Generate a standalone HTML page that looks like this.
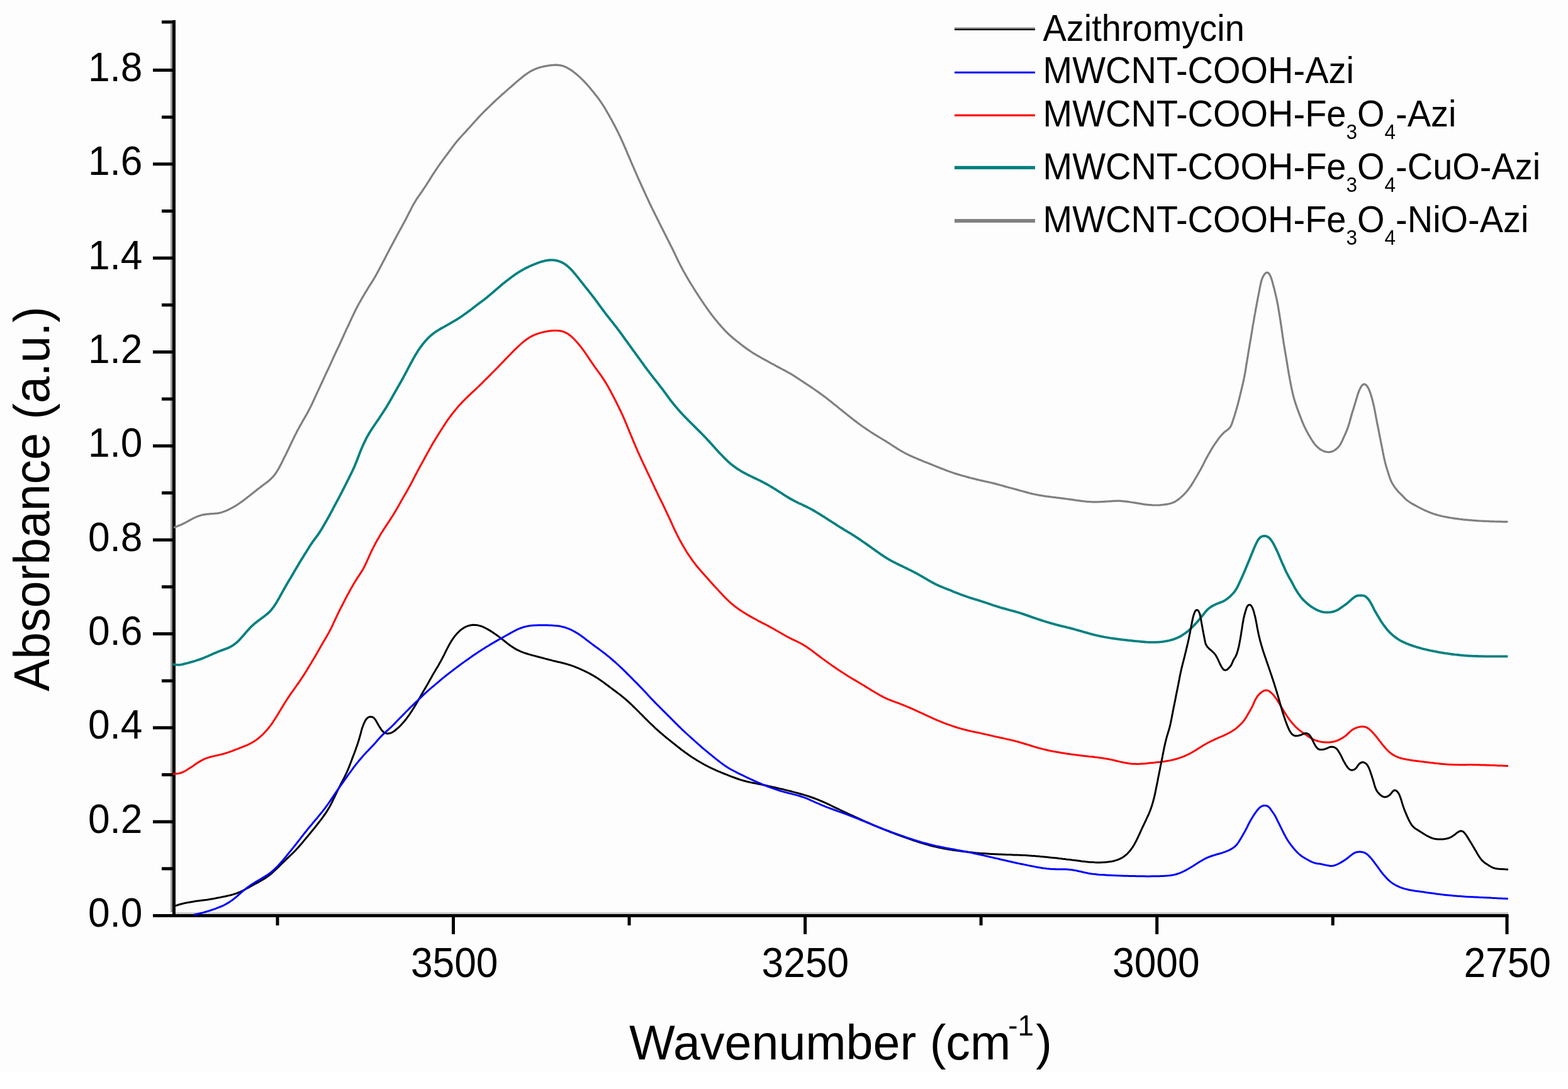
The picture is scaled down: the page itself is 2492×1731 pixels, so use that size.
<!DOCTYPE html>
<html><head><meta charset="utf-8"><title>FTIR Absorbance</title>
<style>
html,body{margin:0;padding:0;background:#fff;}
body{width:2492px;height:1731px;overflow:hidden;}
svg{display:block;}
</style></head>
<body>
<svg xmlns="http://www.w3.org/2000/svg" width="2492" height="1731" viewBox="0 0 2492 1731">
<rect x="0" y="0" width="2492" height="1705" fill="#fdfdfd"/>
<g font-family="'Liberation Sans', Arial, Helvetica, sans-serif" fill="#000">
<rect x="271" y="38" width="3" height="1412" fill="#9a9a9a"/>
<rect x="279" y="1450" width="2118" height="3" fill="#cfcfcf"/>
<rect x="274" y="32" width="5" height="1426" fill="#000"/>
<rect x="243" y="1453" width="2154.5" height="5" fill="#000"/>
<rect x="243" y="1453.0" width="33" height="5" fill="#000"/>
<rect x="257" y="1378.3" width="19" height="5" fill="#000"/>
<rect x="243" y="1303.7" width="33" height="5" fill="#000"/>
<rect x="257" y="1229.0" width="19" height="5" fill="#000"/>
<rect x="243" y="1154.3" width="33" height="5" fill="#000"/>
<rect x="257" y="1079.7" width="19" height="5" fill="#000"/>
<rect x="243" y="1005.0" width="33" height="5" fill="#000"/>
<rect x="257" y="930.3" width="19" height="5" fill="#000"/>
<rect x="243" y="855.7" width="33" height="5" fill="#000"/>
<rect x="257" y="781.0" width="19" height="5" fill="#000"/>
<rect x="243" y="706.3" width="33" height="5" fill="#000"/>
<rect x="257" y="631.7" width="19" height="5" fill="#000"/>
<rect x="243" y="557.0" width="33" height="5" fill="#000"/>
<rect x="257" y="482.3" width="19" height="5" fill="#000"/>
<rect x="243" y="407.7" width="33" height="5" fill="#000"/>
<rect x="257" y="333.0" width="19" height="5" fill="#000"/>
<rect x="243" y="258.3" width="33" height="5" fill="#000"/>
<rect x="257" y="183.7" width="19" height="5" fill="#000"/>
<rect x="243" y="109.0" width="33" height="5" fill="#000"/>
<rect x="257" y="32.5" width="19" height="5" fill="#000"/>
<rect x="438.5" y="1455" width="5" height="16" fill="#000"/>
<rect x="997.5" y="1455" width="5" height="16" fill="#000"/>
<rect x="1556.6" y="1455" width="5" height="16" fill="#000"/>
<rect x="2115.7" y="1455" width="5" height="16" fill="#000"/>
<rect x="718.0" y="1455" width="5" height="30" fill="#000"/>
<rect x="1277.1" y="1455" width="5" height="30" fill="#000"/>
<rect x="1836.2" y="1455" width="5" height="30" fill="#000"/>
<rect x="2392.5" y="1455" width="5" height="30" fill="#000"/>
<path d="M276.0 838.8L279.0 837.6L281.9 836.5L284.6 835.3L287.3 834.2L290.0 833.0L292.6 831.7L295.3 830.4L297.9 828.9L300.5 827.5L303.1 826.1L305.8 824.7L308.4 823.4L311.1 822.1L313.8 820.9L316.6 819.9L319.3 819.0L322.2 818.3L325.1 817.8L328.0 817.4L330.9 817.1L333.9 816.9L336.9 816.7L339.8 816.5L342.8 816.2L345.7 815.9L348.6 815.4L351.4 814.7L354.2 813.8L357.0 812.8L359.7 811.7L362.4 810.5L365.1 809.1L367.7 807.8L370.3 806.3L372.9 804.8L375.5 803.3L378.0 801.7L380.5 800.0L383.0 798.3L385.4 796.6L387.8 794.8L390.2 793.0L392.6 791.1L394.9 789.3L397.3 787.4L399.6 785.5L402.0 783.7L404.3 781.8L406.7 779.9L409.0 778.1L411.4 776.3L413.8 774.4L416.2 772.6L418.6 770.8L421.0 769.0L423.3 767.2L425.7 765.4L428.0 763.5L430.2 761.5L432.3 759.4L434.3 757.3L436.2 755.0L437.9 752.7L439.6 750.2L441.2 747.7L442.7 745.1L444.1 742.5L445.5 739.8L446.9 737.2L448.2 734.5L449.6 731.8L450.9 729.1L452.2 726.4L453.6 723.8L454.9 721.1L456.2 718.4L457.5 715.7L458.8 713.0L460.1 710.3L461.4 707.5L462.7 704.8L464.0 702.1L465.3 699.4L466.6 696.7L467.9 694.0L469.2 691.3L470.6 688.7L471.9 686.0L473.3 683.3L474.8 680.7L476.2 678.1L477.7 675.4L479.2 672.8L480.6 670.2L482.1 667.6L483.6 665.0L485.1 662.4L486.6 659.8L488.1 657.2L489.5 654.6L491.0 651.9L492.3 649.3L493.7 646.6L495.0 643.9L496.3 641.2L497.5 638.5L498.8 635.7L500.0 633.0L501.2 630.3L502.5 627.6L503.7 624.8L505.0 622.1L506.3 619.4L507.6 616.7L508.8 614.0L510.1 611.3L511.4 608.5L512.6 605.8L513.9 603.1L515.1 600.3L516.4 597.6L517.6 594.9L518.9 592.2L520.2 589.5L521.5 586.8L522.7 584.1L524.0 581.3L525.2 578.6L526.5 575.9L527.7 573.1L529.0 570.4L530.2 567.7L531.5 565.0L532.7 562.2L534.0 559.5L535.3 556.8L536.6 554.1L537.9 551.4L539.2 548.7L540.4 546.0L541.7 543.3L542.9 540.5L544.2 537.8L545.4 535.0L546.6 532.3L547.8 529.6L549.1 526.8L550.3 524.1L551.6 521.4L552.9 518.7L554.2 516.0L555.4 513.3L556.7 510.5L558.0 507.8L559.2 505.1L560.5 502.4L561.8 499.7L563.1 497.0L564.4 494.3L565.7 491.6L567.1 488.9L568.5 486.3L569.9 483.6L571.4 481.0L572.9 478.4L574.3 475.8L575.8 473.2L577.4 470.6L578.9 468.0L580.4 465.4L582.0 462.9L583.6 460.3L585.1 457.8L586.7 455.2L588.3 452.7L589.9 450.2L591.5 447.6L593.1 445.1L594.6 442.5L596.2 439.9L597.6 437.3L599.1 434.7L600.5 432.0L601.9 429.4L603.3 426.7L604.7 424.1L606.1 421.4L607.5 418.8L608.9 416.1L610.3 413.4L611.7 410.8L613.1 408.1L614.4 405.5L615.8 402.8L617.2 400.2L618.6 397.5L620.0 394.8L621.4 392.2L622.8 389.5L624.2 386.9L625.6 384.2L627.0 381.6L628.4 378.9L629.8 376.3L631.2 373.6L632.7 371.0L634.1 368.3L635.6 365.7L637.0 363.1L638.5 360.5L639.9 357.8L641.3 355.2L642.8 352.6L644.2 349.9L645.6 347.3L646.9 344.6L648.3 341.9L649.6 339.2L651.0 336.6L652.4 333.9L653.7 331.2L655.1 328.6L656.6 325.9L658.0 323.3L659.6 320.8L661.1 318.2L662.8 315.7L664.4 313.2L666.1 310.8L667.8 308.3L669.6 305.8L671.3 303.4L672.9 300.9L674.6 298.4L676.3 295.9L677.9 293.4L679.5 290.8L681.1 288.3L682.7 285.8L684.3 283.2L685.9 280.7L687.5 278.2L689.1 275.6L690.8 273.1L692.4 270.6L694.1 268.1L695.8 265.6L697.5 263.2L699.2 260.7L701.0 258.3L702.7 255.9L704.5 253.4L706.3 251.0L708.1 248.6L709.9 246.2L711.7 243.8L713.5 241.4L715.2 239.0L717.0 236.6L718.8 234.2L720.6 231.8L722.4 229.4L724.3 227.0L726.2 224.7L728.1 222.4L730.1 220.2L732.1 218.0L734.1 215.7L736.1 213.5L738.2 211.3L740.2 209.1L742.2 206.9L744.2 204.7L746.3 202.5L748.3 200.2L750.3 198.0L752.2 195.8L754.2 193.5L756.3 191.3L758.3 189.1L760.3 186.9L762.4 184.7L764.4 182.5L766.5 180.3L768.6 178.2L770.7 176.1L772.9 174.0L775.0 171.9L777.2 169.8L779.3 167.7L781.5 165.6L783.7 163.5L785.8 161.5L788.0 159.4L790.2 157.4L792.4 155.4L794.7 153.4L796.9 151.3L799.1 149.3L801.4 147.4L803.6 145.4L805.9 143.4L808.1 141.4L810.4 139.4L812.7 137.5L814.9 135.5L817.2 133.5L819.4 131.5L821.7 129.6L824.0 127.6L826.3 125.7L828.6 123.8L830.9 121.9L833.3 120.1L835.7 118.3L838.1 116.6L840.6 115.0L843.2 113.4L845.8 112.0L848.4 110.7L851.2 109.5L853.9 108.5L856.7 107.5L859.6 106.7L862.5 106.0L865.4 105.4L868.3 104.8L871.3 104.3L874.2 103.9L877.2 103.6L880.1 103.3L883.0 103.2L886.0 103.3L888.8 103.6L891.7 104.1L894.5 104.8L897.2 105.8L899.9 106.9L902.5 108.3L905.0 109.8L907.5 111.4L910.0 113.1L912.3 114.9L914.7 116.7L917.0 118.7L919.2 120.6L921.5 122.6L923.6 124.7L925.8 126.8L927.9 128.9L929.9 131.1L932.0 133.3L934.0 135.5L935.9 137.8L937.9 140.1L939.8 142.4L941.7 144.7L943.6 147.0L945.5 149.4L947.3 151.7L949.2 154.1L951.0 156.5L952.7 158.9L954.4 161.4L956.1 163.8L957.8 166.3L959.4 168.9L961.0 171.4L962.5 174.0L964.0 176.6L965.5 179.2L967.0 181.8L968.5 184.4L969.9 187.0L971.4 189.6L972.8 192.3L974.3 194.9L975.7 197.6L977.1 200.2L978.5 202.9L979.8 205.5L981.2 208.2L982.5 210.9L983.8 213.6L985.1 216.3L986.4 219.0L987.7 221.8L988.9 224.5L990.1 227.2L991.3 230.0L992.5 232.7L993.7 235.5L994.9 238.2L996.1 241.0L997.2 243.8L998.4 246.5L999.6 249.3L1000.8 252.0L1002.0 254.8L1003.1 257.6L1004.3 260.3L1005.5 263.1L1006.7 265.8L1007.9 268.6L1009.1 271.3L1010.3 274.1L1011.5 276.8L1012.7 279.6L1013.9 282.3L1015.1 285.1L1016.4 287.8L1017.6 290.5L1018.8 293.3L1020.0 296.0L1021.3 298.7L1022.5 301.5L1023.8 304.2L1025.0 306.9L1026.3 309.7L1027.5 312.4L1028.8 315.1L1030.1 317.8L1031.3 320.5L1032.6 323.3L1033.9 326.0L1035.2 328.7L1036.5 331.4L1037.8 334.1L1039.2 336.8L1040.5 339.5L1041.8 342.1L1043.2 344.8L1044.5 347.5L1045.9 350.2L1047.2 352.9L1048.5 355.6L1049.9 358.2L1051.2 360.9L1052.6 363.6L1053.9 366.3L1055.3 369.0L1056.6 371.7L1058.0 374.3L1059.3 377.0L1060.7 379.7L1062.0 382.4L1063.4 385.0L1064.7 387.7L1066.1 390.4L1067.4 393.1L1068.8 395.8L1070.1 398.5L1071.4 401.2L1072.7 403.9L1074.0 406.6L1075.3 409.3L1076.5 412.0L1077.8 414.7L1079.2 417.4L1080.5 420.1L1081.9 422.7L1083.3 425.4L1084.7 428.0L1086.1 430.7L1087.6 433.3L1089.1 435.9L1090.6 438.5L1092.1 441.1L1093.6 443.7L1095.1 446.3L1096.7 448.8L1098.2 451.4L1099.8 454.0L1101.4 456.5L1103.0 459.1L1104.6 461.6L1106.2 464.1L1107.8 466.6L1109.4 469.2L1111.1 471.7L1112.7 474.2L1114.4 476.7L1116.1 479.2L1117.8 481.6L1119.4 484.1L1121.2 486.6L1122.9 489.1L1124.6 491.5L1126.3 493.9L1128.1 496.4L1129.9 498.8L1131.7 501.2L1133.5 503.6L1135.4 505.9L1137.3 508.2L1139.2 510.6L1141.1 512.9L1143.0 515.2L1145.0 517.4L1147.0 519.7L1149.0 521.9L1151.0 524.1L1153.1 526.3L1155.2 528.4L1157.3 530.5L1159.5 532.5L1161.7 534.5L1164.0 536.5L1166.3 538.4L1168.6 540.3L1171.0 542.2L1173.3 544.0L1175.7 545.9L1178.0 547.7L1180.4 549.6L1182.8 551.4L1185.2 553.1L1187.7 554.9L1190.1 556.6L1192.6 558.3L1195.1 560.0L1197.6 561.6L1200.2 563.2L1202.7 564.7L1205.3 566.2L1207.9 567.7L1210.5 569.1L1213.2 570.6L1215.8 572.0L1218.5 573.4L1221.1 574.9L1223.7 576.3L1226.3 577.8L1228.9 579.2L1231.6 580.7L1234.2 582.1L1236.8 583.5L1239.5 584.9L1242.1 586.3L1244.7 587.7L1247.3 589.0L1249.9 590.4L1252.4 591.8L1254.9 593.2L1257.4 594.7L1259.8 596.1L1262.2 597.7L1264.6 599.2L1267.0 600.8L1269.5 602.4L1271.9 604.0L1274.4 605.6L1276.9 607.3L1279.4 608.9L1281.9 610.6L1284.4 612.2L1286.9 613.9L1289.4 615.6L1291.9 617.3L1294.4 619.0L1296.8 620.7L1299.3 622.4L1301.7 624.1L1304.2 625.9L1306.6 627.7L1309.0 629.4L1311.4 631.2L1313.8 633.1L1316.1 634.9L1318.5 636.8L1320.8 638.6L1323.2 640.5L1325.5 642.4L1327.9 644.3L1330.2 646.1L1332.5 648.0L1334.9 649.9L1337.2 651.8L1339.5 653.7L1341.9 655.6L1344.2 657.5L1346.6 659.3L1348.9 661.2L1351.3 663.1L1353.6 664.9L1356.0 666.8L1358.4 668.6L1360.8 670.4L1363.2 672.2L1365.6 674.0L1368.0 675.7L1370.4 677.5L1372.9 679.2L1375.3 680.9L1377.8 682.6L1380.3 684.3L1382.8 686.0L1385.3 687.6L1387.8 689.2L1390.4 690.8L1392.9 692.4L1395.5 693.9L1398.1 695.5L1400.6 697.0L1403.2 698.6L1405.8 700.1L1408.3 701.7L1410.9 703.3L1413.4 704.9L1415.9 706.5L1418.4 708.2L1421.0 709.8L1423.5 711.4L1426.0 713.1L1428.5 714.6L1431.1 716.2L1433.7 717.7L1436.3 719.2L1439.0 720.6L1441.6 721.9L1444.3 723.2L1447.0 724.5L1449.8 725.7L1452.5 727.0L1455.3 728.1L1458.0 729.3L1460.8 730.5L1463.6 731.6L1466.3 732.7L1469.1 733.9L1471.9 735.0L1474.7 736.1L1477.5 737.2L1480.3 738.3L1483.1 739.4L1485.8 740.6L1488.6 741.7L1491.4 742.8L1494.2 743.9L1497.0 745.0L1499.8 746.1L1502.6 747.2L1505.4 748.3L1508.2 749.3L1511.0 750.3L1513.8 751.3L1516.7 752.2L1519.6 753.1L1522.4 754.0L1525.3 754.9L1528.2 755.7L1531.1 756.5L1533.9 757.3L1536.8 758.1L1539.7 758.9L1542.6 759.7L1545.6 760.4L1548.5 761.1L1551.4 761.9L1554.3 762.6L1557.2 763.3L1560.1 763.9L1563.1 764.6L1566.0 765.2L1568.9 765.9L1571.8 766.5L1574.8 767.2L1577.7 767.9L1580.6 768.6L1583.5 769.4L1586.4 770.2L1589.3 771.0L1592.2 771.8L1595.1 772.6L1597.9 773.4L1600.8 774.2L1603.7 775.0L1606.6 775.7L1609.5 776.5L1612.4 777.3L1615.3 778.1L1618.2 778.9L1621.1 779.7L1624.0 780.5L1626.9 781.3L1629.8 782.1L1632.7 782.9L1635.6 783.7L1638.5 784.4L1641.4 785.1L1644.3 785.7L1647.3 786.3L1650.2 786.9L1653.1 787.4L1656.1 787.9L1659.1 788.3L1662.0 788.8L1665.0 789.2L1668.0 789.6L1671.0 790.0L1673.9 790.4L1676.9 790.7L1679.9 791.1L1682.9 791.4L1685.8 791.8L1688.8 792.2L1691.8 792.6L1694.8 793.0L1697.7 793.4L1700.7 793.8L1703.7 794.2L1706.7 794.7L1709.6 795.1L1712.6 795.5L1715.6 795.9L1718.5 796.3L1721.5 796.7L1724.5 797.0L1727.5 797.3L1730.5 797.5L1733.5 797.7L1736.4 797.8L1739.4 797.8L1742.4 797.9L1745.4 797.8L1748.4 797.7L1751.4 797.6L1754.4 797.4L1757.4 797.2L1760.4 797.0L1763.4 796.8L1766.4 796.6L1769.3 796.4L1772.3 796.3L1775.3 796.2L1778.3 796.2L1781.3 796.4L1784.2 796.6L1787.2 796.8L1790.2 797.2L1793.2 797.6L1796.1 798.0L1799.1 798.5L1802.0 798.9L1805.0 799.4L1808.0 799.9L1810.9 800.4L1813.9 800.9L1816.8 801.3L1819.8 801.8L1822.8 802.1L1825.7 802.5L1828.7 802.7L1831.7 802.9L1834.6 803.0L1837.6 803.0L1840.6 803.0L1843.5 802.8L1846.5 802.5L1849.4 802.2L1852.3 801.8L1855.3 801.4L1858.2 800.8L1861.1 800.0L1863.9 799.1L1866.6 797.8L1869.2 796.3L1871.7 794.6L1874.1 792.9L1876.4 790.9L1878.6 788.9L1880.8 786.8L1882.9 784.7L1884.9 782.5L1886.8 780.2L1888.7 777.8L1890.5 775.4L1892.2 773.0L1893.9 770.5L1895.4 767.9L1897.0 765.3L1898.5 762.7L1900.0 760.2L1901.6 757.6L1903.1 755.0L1904.6 752.4L1906.1 749.8L1907.6 747.2L1909.0 744.6L1910.4 741.9L1911.8 739.2L1913.1 736.6L1914.5 733.9L1915.8 731.2L1917.2 728.5L1918.7 725.9L1920.1 723.3L1921.6 720.7L1923.1 718.1L1924.6 715.5L1926.1 712.9L1927.7 710.3L1929.3 707.8L1931.0 705.3L1932.7 702.9L1934.5 700.4L1936.2 698.0L1938.1 695.6L1939.9 693.3L1941.9 691.0L1943.9 688.8L1946.1 686.8L1948.5 685.0L1950.9 683.2L1953.2 681.3L1955.1 679.0L1956.6 676.5L1957.7 673.7L1958.7 670.9L1959.6 668.0L1960.5 665.2L1961.5 662.3L1962.4 659.4L1963.3 656.6L1964.1 653.7L1965.0 650.8L1965.8 647.9L1966.6 645.1L1967.4 642.2L1968.1 639.2L1968.9 636.3L1969.6 633.4L1970.3 630.5L1971.0 627.6L1971.7 624.7L1972.4 621.8L1973.1 618.8L1973.8 615.9L1974.5 613.0L1975.2 610.1L1975.9 607.2L1976.5 604.2L1977.1 601.3L1977.7 598.3L1978.3 595.4L1978.8 592.4L1979.3 589.5L1979.8 586.5L1980.3 583.6L1980.7 580.6L1981.2 577.6L1981.7 574.7L1982.2 571.7L1982.7 568.7L1983.2 565.8L1983.6 562.8L1984.1 559.9L1984.6 556.9L1985.1 554.0L1985.6 551.0L1986.1 548.0L1986.6 545.1L1987.1 542.1L1987.6 539.2L1988.1 536.2L1988.6 533.2L1989.1 530.3L1989.6 527.3L1990.1 524.3L1990.5 521.4L1991.0 518.4L1991.5 515.5L1992.1 512.5L1992.6 509.6L1993.1 506.6L1993.6 503.6L1994.1 500.7L1994.7 497.7L1995.2 494.8L1995.7 491.8L1996.3 488.9L1996.8 485.9L1997.4 483.0L1997.9 480.0L1998.5 477.1L1999.0 474.1L1999.6 471.2L2000.2 468.2L2000.8 465.3L2001.4 462.4L2001.9 459.4L2002.5 456.5L2003.1 453.5L2003.7 450.6L2004.4 447.7L2005.2 444.8L2006.3 442.0L2007.5 439.3L2009.1 436.7L2010.9 434.5L2013.2 433.1L2015.5 433.6L2017.3 435.6L2018.7 438.2L2019.9 440.9L2020.9 443.8L2021.8 446.6L2022.6 449.5L2023.3 452.4L2024.1 455.3L2024.9 458.2L2025.6 461.1L2026.3 464.0L2027.0 467.0L2027.7 469.9L2028.4 472.8L2029.0 475.7L2029.6 478.7L2030.2 481.6L2030.8 484.6L2031.3 487.5L2031.8 490.5L2032.3 493.4L2032.8 496.4L2033.3 499.4L2033.8 502.3L2034.2 505.3L2034.7 508.2L2035.2 511.2L2035.6 514.2L2036.0 517.1L2036.5 520.1L2036.9 523.1L2037.3 526.1L2037.8 529.0L2038.2 532.0L2038.6 535.0L2039.1 537.9L2039.5 540.9L2040.0 543.9L2040.4 546.8L2040.9 549.8L2041.4 552.8L2041.9 555.7L2042.4 558.7L2042.9 561.6L2043.4 564.6L2043.9 567.5L2044.4 570.5L2044.9 573.5L2045.4 576.4L2045.9 579.4L2046.4 582.4L2046.8 585.3L2047.3 588.3L2047.8 591.2L2048.3 594.2L2048.9 597.1L2049.4 600.1L2049.9 603.0L2050.5 606.0L2051.1 608.9L2051.6 611.9L2052.2 614.8L2052.8 617.8L2053.5 620.7L2054.1 623.6L2054.8 626.6L2055.5 629.5L2056.3 632.4L2057.1 635.3L2058.0 638.1L2058.9 641.0L2059.8 643.8L2060.8 646.7L2061.8 649.5L2062.8 652.3L2063.9 655.1L2064.9 657.9L2066.0 660.7L2067.1 663.5L2068.2 666.3L2069.3 669.1L2070.4 671.9L2071.6 674.7L2072.8 677.4L2074.1 680.1L2075.4 682.8L2076.8 685.5L2078.2 688.1L2079.7 690.7L2081.2 693.3L2082.7 695.9L2084.3 698.5L2085.9 701.0L2087.6 703.5L2089.4 705.9L2091.3 708.2L2093.4 710.3L2095.7 712.3L2098.1 714.1L2100.6 715.6L2103.3 716.9L2106.1 717.9L2109.0 718.5L2112.0 718.7L2114.9 718.3L2117.8 717.4L2120.4 716.1L2122.9 714.4L2125.2 712.5L2127.3 710.4L2129.1 708.0L2130.7 705.4L2132.1 702.8L2133.4 700.1L2134.6 697.4L2135.8 694.6L2137.1 691.9L2138.3 689.1L2139.5 686.4L2140.6 683.6L2141.7 680.8L2142.7 678.0L2143.7 675.1L2144.5 672.3L2145.3 669.4L2146.1 666.5L2146.9 663.6L2147.7 660.7L2148.5 657.8L2149.4 654.9L2150.3 652.1L2151.2 649.2L2152.0 646.3L2152.9 643.5L2153.8 640.6L2154.7 637.7L2155.5 634.8L2156.4 632.0L2157.2 629.1L2158.1 626.2L2159.1 623.4L2160.2 620.6L2161.5 617.9L2162.9 615.2L2164.5 612.8L2166.5 611.0L2168.9 610.7L2171.3 612.1L2173.1 614.4L2174.6 616.9L2175.9 619.6L2177.0 622.4L2178.0 625.3L2178.9 628.1L2179.8 631.0L2180.6 633.9L2181.4 636.8L2182.1 639.7L2182.8 642.6L2183.5 645.5L2184.1 648.5L2184.7 651.4L2185.3 654.3L2185.8 657.3L2186.4 660.2L2186.9 663.2L2187.5 666.1L2188.0 669.1L2188.6 672.0L2189.2 675.0L2189.8 677.9L2190.4 680.9L2191.0 683.8L2191.5 686.8L2192.1 689.7L2192.7 692.6L2193.3 695.6L2193.9 698.5L2194.4 701.5L2195.0 704.4L2195.6 707.4L2196.2 710.3L2196.8 713.3L2197.4 716.2L2197.9 719.1L2198.5 722.1L2199.1 725.0L2199.7 728.0L2200.4 730.9L2201.1 733.8L2201.8 736.7L2202.6 739.6L2203.4 742.5L2204.3 745.4L2205.2 748.2L2206.1 751.1L2207.0 754.0L2207.9 756.8L2208.9 759.7L2209.9 762.5L2211.1 765.2L2212.5 767.9L2214.0 770.5L2215.6 773.0L2217.3 775.4L2219.2 777.8L2221.1 780.1L2223.1 782.3L2225.2 784.4L2227.4 786.5L2229.5 788.6L2231.6 790.8L2233.6 793.0L2235.8 795.0L2238.2 796.8L2240.7 798.5L2243.3 800.1L2245.9 801.5L2248.5 803.0L2251.1 804.4L2253.8 805.8L2256.4 807.2L2259.1 808.6L2261.8 809.9L2264.5 811.2L2267.3 812.4L2270.0 813.6L2272.8 814.7L2275.6 815.7L2278.4 816.7L2281.3 817.6L2284.1 818.5L2287.0 819.3L2289.9 820.0L2292.8 820.7L2295.8 821.3L2298.7 821.9L2301.6 822.4L2304.6 823.0L2307.6 823.4L2310.5 823.9L2313.5 824.3L2316.5 824.7L2319.4 825.1L2322.4 825.4L2325.4 825.8L2328.4 826.1L2331.4 826.4L2334.4 826.7L2337.4 826.9L2340.3 827.2L2343.3 827.4L2346.3 827.6L2349.3 827.8L2352.3 828.0L2355.3 828.1L2358.3 828.3L2361.3 828.4L2364.3 828.5L2367.3 828.7L2370.3 828.8L2373.3 828.9L2376.2 829.0L2379.2 829.1L2382.1 829.2L2385.0 829.2L2388.0 829.3L2391.0 829.3L2394.1 829.3L2396.3 829.3" fill="none" stroke="#808080" stroke-width="3.2" stroke-linejoin="round"/>
<path d="M274.7 1055.6L277.9 1056.3L280.9 1056.7L283.8 1056.9L286.7 1056.6L289.6 1056.1L292.4 1055.4L295.3 1054.7L298.2 1054.0L301.0 1053.2L303.9 1052.4L306.8 1051.6L309.6 1050.7L312.5 1049.8L315.3 1048.9L318.2 1047.9L321.0 1046.9L323.8 1045.8L326.5 1044.6L329.3 1043.5L332.0 1042.3L334.8 1041.1L337.5 1039.8L340.2 1038.6L343.0 1037.4L345.7 1036.3L348.5 1035.2L351.3 1034.1L354.1 1033.1L356.9 1032.1L359.6 1031.0L362.4 1029.9L365.0 1028.7L367.6 1027.3L370.1 1025.8L372.6 1024.1L374.9 1022.3L377.1 1020.4L379.3 1018.4L381.3 1016.2L383.3 1014.0L385.3 1011.8L387.3 1009.5L389.2 1007.3L391.1 1005.0L393.1 1002.7L395.1 1000.5L397.1 998.3L399.2 996.2L401.4 994.2L403.6 992.2L405.9 990.2L408.2 988.4L410.6 986.5L413.0 984.7L415.4 983.0L417.8 981.2L420.2 979.4L422.5 977.6L424.8 975.7L427.0 973.8L429.1 971.7L431.1 969.5L432.9 967.2L434.7 964.9L436.4 962.4L438.0 959.9L439.6 957.4L441.1 954.8L442.6 952.2L444.1 949.6L445.5 947.0L447.0 944.3L448.4 941.7L449.9 939.1L451.3 936.5L452.8 933.9L454.3 931.3L455.8 928.7L457.3 926.1L458.9 923.5L460.4 920.9L462.0 918.4L463.5 915.8L465.0 913.2L466.5 910.6L468.0 908.0L469.5 905.4L471.1 902.8L472.6 900.2L474.1 897.7L475.6 895.1L477.2 892.5L478.7 890.0L480.3 887.4L481.9 884.9L483.5 882.3L485.1 879.8L486.7 877.2L488.3 874.7L489.9 872.2L491.5 869.6L493.1 867.1L494.7 864.6L496.4 862.1L498.1 859.7L499.9 857.3L501.7 854.9L503.4 852.5L505.2 850.1L506.9 847.6L508.6 845.1L510.2 842.6L511.7 840.1L513.2 837.5L514.7 834.9L516.2 832.3L517.7 829.7L519.2 827.1L520.6 824.5L522.1 821.9L523.6 819.3L525.0 816.7L526.4 814.0L527.9 811.4L529.2 808.7L530.6 806.1L532.0 803.4L533.4 800.8L534.8 798.1L536.3 795.5L537.7 792.8L539.1 790.2L540.5 787.5L541.9 784.9L543.3 782.2L544.6 779.5L546.0 776.9L547.3 774.2L548.7 771.5L550.0 768.8L551.4 766.1L552.7 763.5L554.1 760.8L555.4 758.1L556.7 755.4L558.1 752.7L559.4 750.0L560.7 747.3L561.9 744.6L563.2 741.9L564.3 739.1L565.5 736.3L566.6 733.6L567.7 730.8L568.7 728.0L569.8 725.2L570.9 722.4L571.9 719.6L573.1 716.8L574.2 714.0L575.4 711.2L576.6 708.5L577.8 705.8L579.1 703.1L580.4 700.4L581.7 697.7L583.1 695.0L584.6 692.4L586.1 689.8L587.6 687.2L589.2 684.7L590.8 682.2L592.4 679.7L594.1 677.2L595.8 674.7L597.5 672.2L599.2 669.7L600.9 667.3L602.6 664.8L604.2 662.3L605.9 659.8L607.6 657.3L609.2 654.8L610.8 652.3L612.4 649.7L614.0 647.2L615.5 644.6L617.1 642.1L618.6 639.5L620.1 636.9L621.6 634.3L623.1 631.7L624.5 629.0L626.0 626.4L627.5 623.8L628.9 621.2L630.4 618.6L631.9 616.0L633.4 613.4L634.9 610.8L636.4 608.2L637.9 605.6L639.3 603.0L640.8 600.3L642.2 597.7L643.6 595.1L645.0 592.4L646.4 589.8L647.8 587.1L649.2 584.4L650.6 581.8L652.0 579.1L653.4 576.5L654.9 573.9L656.3 571.2L657.8 568.6L659.3 566.0L660.8 563.4L662.3 560.9L663.9 558.3L665.6 555.8L667.2 553.3L669.0 550.9L670.8 548.5L672.6 546.2L674.5 543.9L676.5 541.6L678.5 539.4L680.6 537.2L682.7 535.2L684.9 533.2L687.2 531.3L689.5 529.5L692.0 527.7L694.4 526.1L697.0 524.5L699.5 523.0L702.1 521.5L704.8 520.1L707.4 518.6L710.0 517.2L712.6 515.7L715.3 514.2L717.9 512.7L720.4 511.2L723.0 509.7L725.6 508.1L728.1 506.5L730.6 504.9L733.1 503.2L735.6 501.5L738.0 499.8L740.5 498.0L742.9 496.3L745.3 494.5L747.7 492.7L750.1 490.9L752.5 489.0L754.8 487.2L757.2 485.4L759.6 483.6L762.0 481.8L764.4 480.0L766.8 478.2L769.2 476.4L771.6 474.5L773.9 472.7L776.2 470.8L778.5 468.9L780.8 466.9L783.1 465.0L785.4 463.0L787.6 461.0L789.9 459.1L792.2 457.1L794.4 455.2L796.7 453.2L799.0 451.3L801.4 449.4L803.7 447.6L806.1 445.7L808.5 443.9L810.9 442.1L813.3 440.3L815.7 438.6L818.1 436.8L820.6 435.1L823.1 433.5L825.6 431.9L828.2 430.3L830.8 428.8L833.4 427.4L836.1 426.0L838.7 424.7L841.5 423.4L844.2 422.2L846.9 421.0L849.7 419.9L852.5 418.8L855.3 417.7L858.1 416.8L861.0 415.9L863.8 415.1L866.7 414.4L869.6 413.8L872.5 413.5L875.4 413.3L878.3 413.3L881.2 413.6L884.1 414.1L886.9 414.8L889.6 415.7L892.3 416.8L894.9 418.1L897.4 419.6L899.8 421.3L902.1 423.2L904.3 425.1L906.4 427.2L908.5 429.3L910.5 431.5L912.4 433.8L914.4 436.1L916.3 438.4L918.1 440.7L920.0 443.1L921.9 445.4L923.7 447.8L925.6 450.1L927.5 452.5L929.3 454.8L931.2 457.2L933.1 459.5L935.0 461.8L936.8 464.2L938.7 466.6L940.5 468.9L942.3 471.3L944.2 473.7L946.0 476.1L947.7 478.5L949.5 480.9L951.3 483.3L953.1 485.8L954.8 488.2L956.6 490.6L958.4 493.0L960.2 495.4L962.0 497.8L963.8 500.2L965.7 502.5L967.5 504.9L969.4 507.2L971.3 509.6L973.1 511.9L975.0 514.3L976.8 516.7L978.7 519.0L980.5 521.4L982.3 523.8L984.1 526.2L985.9 528.6L987.7 531.0L989.4 533.5L991.2 535.9L992.9 538.3L994.7 540.8L996.4 543.2L998.2 545.6L1000.0 548.1L1001.7 550.5L1003.5 552.9L1005.2 555.3L1007.0 557.8L1008.8 560.2L1010.5 562.6L1012.3 565.1L1014.0 567.5L1015.8 569.9L1017.6 572.3L1019.3 574.8L1021.1 577.2L1022.9 579.6L1024.6 582.1L1026.4 584.5L1028.2 586.9L1030.0 589.3L1031.8 591.7L1033.6 594.1L1035.4 596.4L1037.3 598.8L1039.1 601.2L1041.0 603.5L1042.9 605.9L1044.7 608.2L1046.6 610.6L1048.4 613.0L1050.2 615.3L1052.1 617.7L1053.9 620.1L1055.6 622.5L1057.4 624.9L1059.2 627.4L1061.0 629.8L1062.7 632.2L1064.5 634.6L1066.3 637.0L1068.2 639.4L1070.0 641.7L1071.9 644.0L1073.8 646.3L1075.8 648.6L1077.8 650.9L1079.7 653.1L1081.8 655.4L1083.8 657.6L1085.8 659.8L1087.9 661.9L1090.0 664.1L1092.1 666.2L1094.2 668.4L1096.3 670.5L1098.4 672.6L1100.5 674.7L1102.7 676.8L1104.8 678.9L1106.9 681.1L1109.1 683.2L1111.2 685.3L1113.3 687.4L1115.4 689.5L1117.5 691.7L1119.6 693.8L1121.7 696.0L1123.7 698.2L1125.8 700.4L1127.8 702.6L1129.8 704.8L1131.8 707.1L1133.8 709.3L1135.8 711.5L1137.8 713.7L1139.9 716.0L1141.9 718.2L1143.9 720.4L1146.0 722.5L1148.1 724.7L1150.2 726.8L1152.3 729.0L1154.5 731.0L1156.6 733.1L1158.8 735.1L1161.1 737.1L1163.4 739.0L1165.8 740.8L1168.2 742.6L1170.6 744.3L1173.1 745.9L1175.6 747.5L1178.2 749.1L1180.8 750.6L1183.4 752.0L1186.1 753.4L1188.7 754.8L1191.4 756.1L1194.1 757.4L1196.8 758.7L1199.5 760.0L1202.2 761.3L1205.0 762.6L1207.6 763.9L1210.3 765.2L1213.0 766.6L1215.6 768.0L1218.3 769.5L1220.9 770.9L1223.5 772.5L1226.0 774.0L1228.6 775.5L1231.2 777.1L1233.7 778.7L1236.2 780.3L1238.8 781.9L1241.3 783.5L1243.8 785.1L1246.3 786.8L1248.9 788.4L1251.4 790.0L1254.0 791.5L1256.5 793.0L1259.2 794.5L1261.8 795.9L1264.5 797.3L1267.1 798.6L1269.8 799.9L1272.6 801.1L1275.3 802.4L1278.0 803.7L1280.7 805.0L1283.4 806.3L1286.0 807.7L1288.7 809.1L1291.3 810.5L1293.9 812.0L1296.5 813.5L1299.1 815.1L1301.6 816.6L1304.2 818.2L1306.7 819.8L1309.3 821.4L1311.8 823.0L1314.3 824.6L1316.8 826.3L1319.4 827.9L1321.9 829.5L1324.4 831.1L1326.9 832.7L1329.5 834.4L1332.0 836.0L1334.5 837.6L1337.1 839.1L1339.6 840.7L1342.2 842.3L1344.8 843.8L1347.3 845.4L1349.9 846.9L1352.5 848.5L1355.0 850.1L1357.6 851.7L1360.1 853.3L1362.6 854.9L1365.1 856.6L1367.6 858.3L1370.0 860.0L1372.5 861.7L1375.0 863.4L1377.4 865.1L1379.9 866.9L1382.3 868.6L1384.7 870.3L1387.2 872.1L1389.6 873.8L1392.1 875.6L1394.5 877.3L1397.0 879.0L1399.4 880.8L1401.9 882.4L1404.4 884.1L1406.9 885.7L1409.5 887.3L1412.0 888.8L1414.6 890.3L1417.3 891.8L1419.9 893.2L1422.6 894.5L1425.2 895.9L1427.9 897.2L1430.6 898.5L1433.3 899.8L1436.0 901.1L1438.7 902.4L1441.4 903.8L1444.1 905.1L1446.8 906.4L1449.5 907.8L1452.2 909.1L1454.8 910.5L1457.5 911.9L1460.1 913.4L1462.7 914.8L1465.3 916.3L1467.9 917.9L1470.5 919.4L1473.0 920.9L1475.6 922.4L1478.2 923.9L1480.8 925.4L1483.5 926.8L1486.1 928.2L1488.8 929.5L1491.5 930.7L1494.3 931.9L1497.0 933.1L1499.8 934.2L1502.6 935.3L1505.4 936.4L1508.2 937.5L1511.0 938.6L1513.7 939.7L1516.5 940.9L1519.3 942.0L1522.1 943.1L1524.9 944.2L1527.7 945.2L1530.5 946.3L1533.3 947.3L1536.2 948.3L1539.0 949.3L1541.9 950.2L1544.7 951.1L1547.6 952.0L1550.4 952.9L1553.3 953.7L1556.2 954.6L1559.0 955.5L1561.9 956.5L1564.7 957.4L1567.6 958.3L1570.4 959.3L1573.3 960.3L1576.1 961.2L1578.9 962.2L1581.8 963.1L1584.7 964.0L1587.5 964.9L1590.4 965.8L1593.3 966.6L1596.2 967.4L1599.0 968.2L1601.9 969.0L1604.8 969.8L1607.7 970.5L1610.6 971.3L1613.5 972.1L1616.4 973.0L1619.3 973.8L1622.1 974.7L1625.0 975.6L1627.8 976.6L1630.7 977.6L1633.5 978.6L1636.3 979.6L1639.1 980.6L1642.0 981.6L1644.8 982.5L1647.6 983.5L1650.5 984.5L1653.3 985.4L1656.2 986.4L1659.0 987.3L1661.9 988.2L1664.8 989.0L1667.6 989.9L1670.5 990.7L1673.4 991.5L1676.3 992.3L1679.2 993.1L1682.1 993.8L1685.0 994.6L1687.9 995.3L1690.8 996.0L1693.8 996.7L1696.7 997.5L1699.6 998.2L1702.5 998.9L1705.4 999.7L1708.3 1000.5L1711.2 1001.3L1714.1 1002.1L1716.9 1002.9L1719.8 1003.7L1722.7 1004.6L1725.6 1005.4L1728.5 1006.2L1731.4 1007.0L1734.2 1007.8L1737.1 1008.6L1740.1 1009.3L1743.0 1010.0L1745.9 1010.7L1748.8 1011.3L1751.8 1011.9L1754.7 1012.5L1757.7 1013.0L1760.6 1013.5L1763.6 1014.0L1766.5 1014.5L1769.5 1014.9L1772.5 1015.3L1775.4 1015.7L1778.4 1016.1L1781.4 1016.5L1784.4 1016.9L1787.3 1017.2L1790.3 1017.5L1793.3 1017.9L1796.3 1018.2L1799.3 1018.5L1802.3 1018.8L1805.2 1019.1L1808.2 1019.4L1811.2 1019.7L1814.2 1020.0L1817.2 1020.2L1820.2 1020.5L1823.2 1020.7L1826.2 1020.8L1829.1 1020.9L1832.1 1020.9L1835.1 1020.9L1838.1 1020.8L1841.1 1020.6L1844.1 1020.4L1847.1 1020.1L1850.0 1019.7L1853.0 1019.2L1855.9 1018.6L1858.8 1018.0L1861.7 1017.2L1864.5 1016.4L1867.3 1015.4L1870.1 1014.3L1872.8 1013.1L1875.4 1011.8L1877.9 1010.3L1880.4 1008.7L1882.9 1007.0L1885.3 1005.3L1887.7 1003.4L1890.0 1001.5L1892.2 999.5L1894.3 997.4L1896.5 995.3L1898.5 993.1L1900.6 990.9L1902.6 988.7L1904.5 986.4L1906.5 984.1L1908.4 981.9L1910.3 979.5L1912.2 977.1L1914.0 974.8L1915.9 972.4L1917.9 970.2L1920.0 968.1L1922.3 966.2L1924.7 964.5L1927.3 963.0L1930.0 961.6L1932.7 960.3L1935.5 959.2L1938.3 958.1L1941.1 957.1L1943.8 955.9L1946.5 954.5L1949.0 952.8L1951.4 951.0L1953.7 949.1L1955.9 947.1L1958.0 945.0L1960.1 942.8L1962.0 940.5L1963.7 938.1L1965.3 935.5L1966.7 932.9L1968.0 930.2L1969.3 927.4L1970.5 924.7L1971.8 922.0L1973.0 919.3L1974.3 916.5L1975.5 913.8L1976.7 911.0L1977.9 908.3L1979.0 905.5L1980.2 902.7L1981.3 900.0L1982.5 897.2L1983.6 894.4L1984.8 891.7L1985.9 888.9L1987.1 886.1L1988.2 883.3L1989.3 880.6L1990.5 877.8L1991.6 875.0L1992.7 872.2L1993.9 869.5L1995.1 866.7L1996.4 864.0L1997.8 861.3L1999.2 858.7L2000.9 856.3L2003.0 854.2L2005.5 852.7L2008.3 852.0L2011.2 852.0L2014.0 852.8L2016.5 854.4L2018.6 856.5L2020.4 858.8L2022.1 861.3L2023.6 863.9L2025.1 866.5L2026.4 869.2L2027.7 871.9L2029.0 874.6L2030.3 877.3L2031.5 880.1L2032.7 882.8L2033.8 885.6L2035.0 888.4L2036.2 891.1L2037.3 893.9L2038.5 896.6L2039.8 899.4L2041.0 902.1L2042.2 904.8L2043.5 907.6L2044.8 910.3L2046.2 912.9L2047.6 915.6L2049.0 918.2L2050.5 920.8L2052.0 923.4L2053.4 926.0L2054.8 928.7L2056.2 931.4L2057.6 934.0L2059.1 936.6L2060.7 939.2L2062.3 941.7L2063.9 944.2L2065.7 946.7L2067.5 949.1L2069.4 951.4L2071.4 953.6L2073.5 955.7L2075.7 957.7L2078.0 959.7L2080.3 961.5L2082.7 963.4L2085.2 965.1L2087.7 966.7L2090.3 968.2L2093.0 969.5L2095.8 970.7L2098.6 971.8L2101.4 972.6L2104.4 973.1L2107.4 973.3L2110.3 973.4L2113.3 973.2L2116.3 972.8L2119.2 972.1L2122.1 971.2L2124.8 970.1L2127.4 968.6L2129.9 966.9L2132.3 965.2L2134.8 963.5L2137.3 961.8L2139.7 960.0L2142.0 958.1L2144.3 956.1L2146.5 954.1L2148.7 952.1L2151.0 950.2L2153.4 948.4L2156.1 947.2L2159.0 946.6L2161.9 946.4L2164.9 946.5L2167.8 947.0L2170.4 948.3L2172.6 950.2L2174.6 952.4L2176.4 954.8L2178.0 957.4L2179.5 960.0L2180.9 962.6L2182.2 965.3L2183.5 968.0L2184.9 970.7L2186.4 973.3L2187.9 975.9L2189.4 978.4L2191.0 981.0L2192.5 983.6L2194.1 986.2L2195.7 988.7L2197.4 991.2L2199.1 993.6L2200.9 996.0L2202.7 998.4L2204.6 1000.7L2206.5 1002.9L2208.6 1005.1L2210.7 1007.2L2212.9 1009.2L2215.2 1011.1L2217.5 1012.9L2219.9 1014.6L2222.4 1016.3L2225.0 1017.8L2227.6 1019.3L2230.2 1020.6L2232.9 1021.8L2235.7 1023.0L2238.4 1024.1L2241.2 1025.1L2244.1 1026.1L2246.9 1027.1L2249.8 1028.0L2252.6 1028.9L2255.5 1029.7L2258.4 1030.5L2261.3 1031.3L2264.2 1032.0L2267.1 1032.7L2270.0 1033.3L2273.0 1034.0L2275.9 1034.6L2278.9 1035.2L2281.8 1035.7L2284.7 1036.3L2287.7 1036.8L2290.7 1037.3L2293.6 1037.8L2296.6 1038.3L2299.5 1038.7L2302.5 1039.2L2305.5 1039.6L2308.5 1040.0L2311.4 1040.4L2314.4 1040.7L2317.4 1041.0L2320.4 1041.3L2323.4 1041.6L2326.3 1041.9L2329.3 1042.1L2332.3 1042.3L2335.3 1042.5L2338.3 1042.6L2341.3 1042.8L2344.3 1042.9L2347.3 1043.0L2350.3 1043.1L2353.3 1043.2L2356.3 1043.2L2359.3 1043.3L2362.3 1043.3L2365.3 1043.4L2368.3 1043.4L2371.3 1043.4L2374.3 1043.4L2377.2 1043.4L2380.2 1043.4L2383.1 1043.4L2386.0 1043.4L2389.0 1043.3L2392.0 1043.3L2395.2 1043.3L2396.3 1043.3" fill="none" stroke="#008080" stroke-width="3.8" stroke-linejoin="round"/>
<path d="M274.7 1230.3L278.0 1230.1L281.0 1229.8L283.9 1229.4L286.7 1228.7L289.5 1227.8L292.1 1226.6L294.7 1225.2L297.2 1223.7L299.7 1222.1L302.2 1220.5L304.7 1218.9L307.2 1217.2L309.6 1215.5L312.1 1213.8L314.6 1212.1L317.1 1210.6L319.7 1209.1L322.3 1207.7L325.0 1206.4L327.7 1205.3L330.5 1204.4L333.3 1203.5L336.2 1202.8L339.1 1202.1L342.0 1201.4L344.9 1200.8L347.8 1200.1L350.8 1199.4L353.6 1198.7L356.5 1197.9L359.4 1197.0L362.2 1196.1L365.1 1195.1L367.9 1194.1L370.7 1193.0L373.5 1191.9L376.3 1190.8L379.0 1189.8L381.8 1188.7L384.6 1187.6L387.4 1186.5L390.2 1185.4L392.9 1184.3L395.6 1183.0L398.3 1181.7L400.9 1180.3L403.4 1178.7L405.9 1177.1L408.3 1175.4L410.7 1173.5L412.9 1171.6L415.2 1169.6L417.4 1167.6L419.5 1165.5L421.5 1163.3L423.6 1161.1L425.5 1158.9L427.4 1156.5L429.2 1154.2L431.0 1151.8L432.7 1149.3L434.4 1146.8L436.0 1144.3L437.7 1141.8L439.2 1139.3L440.8 1136.7L442.4 1134.1L443.9 1131.6L445.5 1129.0L447.0 1126.4L448.6 1123.9L450.2 1121.3L451.7 1118.8L453.3 1116.2L454.9 1113.7L456.5 1111.2L458.2 1108.7L459.9 1106.2L461.6 1103.7L463.3 1101.2L465.0 1098.8L466.7 1096.3L468.5 1093.9L470.2 1091.5L471.9 1089.0L473.7 1086.5L475.4 1084.1L477.1 1081.6L478.7 1079.1L480.4 1076.6L482.0 1074.1L483.7 1071.6L485.3 1069.0L486.9 1066.5L488.4 1064.0L490.0 1061.4L491.6 1058.8L493.1 1056.3L494.7 1053.7L496.2 1051.1L497.7 1048.5L499.2 1046.0L500.8 1043.4L502.3 1040.8L503.8 1038.2L505.3 1035.6L506.7 1033.0L508.2 1030.4L509.7 1027.8L511.2 1025.2L512.7 1022.6L514.2 1020.0L515.8 1017.4L517.3 1014.8L518.8 1012.2L520.3 1009.6L521.8 1007.0L523.2 1004.4L524.6 1001.8L526.0 999.1L527.3 996.4L528.6 993.7L529.8 991.0L531.1 988.2L532.4 985.5L533.6 982.8L534.9 980.1L536.2 977.4L537.5 974.7L538.8 972.0L540.2 969.3L541.5 966.6L542.9 964.0L544.2 961.3L545.6 958.6L547.0 955.9L548.3 953.3L549.7 950.6L551.1 948.0L552.5 945.3L554.0 942.7L555.4 940.0L556.8 937.4L558.3 934.8L559.8 932.2L561.3 929.6L562.8 927.0L564.4 924.5L566.0 921.9L567.6 919.4L569.2 916.9L570.9 914.4L572.5 911.9L574.1 909.4L575.7 906.9L577.2 904.3L578.6 901.7L579.9 899.0L581.2 896.3L582.5 893.6L583.7 890.9L585.0 888.1L586.2 885.4L587.4 882.7L588.7 879.9L589.9 877.2L591.2 874.5L592.6 871.8L593.9 869.1L595.3 866.5L596.7 863.8L598.1 861.2L599.6 858.6L601.1 856.0L602.6 853.4L604.1 850.8L605.6 848.2L607.2 845.7L608.8 843.1L610.4 840.6L612.1 838.1L613.7 835.6L615.4 833.1L617.0 830.6L618.7 828.1L620.3 825.6L621.9 823.1L623.6 820.5L625.2 818.0L626.7 815.4L628.3 812.9L629.8 810.3L631.3 807.7L632.8 805.1L634.3 802.5L635.7 799.9L637.2 797.2L638.7 794.6L640.2 792.0L641.6 789.4L643.1 786.8L644.7 784.2L646.2 781.6L647.7 779.0L649.1 776.4L650.6 773.8L652.0 771.2L653.4 768.5L654.8 765.9L656.2 763.2L657.6 760.5L658.9 757.9L660.3 755.2L661.7 752.5L663.1 749.9L664.5 747.3L665.9 744.6L667.4 742.0L668.8 739.3L670.3 736.7L671.7 734.1L673.2 731.5L674.6 728.8L676.0 726.2L677.5 723.6L678.9 720.9L680.4 718.3L681.8 715.7L683.3 713.1L684.7 710.4L686.2 707.8L687.7 705.2L689.2 702.6L690.8 700.1L692.3 697.5L693.9 695.0L695.5 692.4L697.1 689.9L698.7 687.3L700.3 684.8L701.9 682.3L703.5 679.7L705.1 677.2L706.8 674.7L708.4 672.2L710.1 669.7L711.8 667.2L713.5 664.8L715.3 662.4L717.1 660.0L718.9 657.6L720.8 655.2L722.6 652.9L724.6 650.6L726.5 648.3L728.4 646.0L730.4 643.8L732.5 641.6L734.5 639.4L736.6 637.2L738.7 635.1L740.8 633.0L743.0 630.9L745.1 628.8L747.3 626.8L749.5 624.7L751.7 622.7L753.9 620.6L756.1 618.6L758.3 616.5L760.5 614.5L762.6 612.4L764.7 610.3L766.9 608.2L769.0 606.0L771.1 603.9L773.2 601.8L775.4 599.7L777.5 597.6L779.6 595.4L781.7 593.3L783.8 591.2L786.0 589.0L788.1 586.9L790.2 584.8L792.3 582.6L794.3 580.5L796.4 578.3L798.5 576.1L800.6 574.0L802.6 571.8L804.7 569.6L806.8 567.5L808.9 565.3L811.0 563.2L813.1 561.0L815.2 558.9L817.3 556.8L819.4 554.7L821.6 552.6L823.8 550.5L826.0 548.5L828.2 546.5L830.4 544.5L832.7 542.6L835.1 540.8L837.5 539.0L840.0 537.4L842.5 535.8L845.1 534.4L847.8 533.1L850.5 531.9L853.3 530.9L856.1 529.9L858.9 529.1L861.8 528.3L864.7 527.6L867.6 527.1L870.6 526.6L873.5 526.1L876.5 525.8L879.5 525.6L882.4 525.4L885.3 525.5L888.2 525.7L891.1 526.1L893.8 526.7L896.5 527.6L899.2 528.8L901.7 530.1L904.1 531.7L906.4 533.5L908.6 535.4L910.8 537.4L912.9 539.5L915.0 541.7L917.0 543.9L918.9 546.2L920.9 548.5L922.7 550.8L924.6 553.2L926.3 555.6L928.1 558.0L929.8 560.5L931.5 562.9L933.2 565.4L934.9 567.9L936.5 570.4L938.2 572.9L939.9 575.4L941.6 577.9L943.3 580.3L945.0 582.8L946.8 585.2L948.5 587.7L950.3 590.1L952.0 592.5L953.8 594.9L955.5 597.4L957.2 599.9L958.9 602.3L960.5 604.9L962.1 607.4L963.7 609.9L965.2 612.5L966.7 615.1L968.1 617.7L969.6 620.4L971.0 623.0L972.4 625.7L973.8 628.3L975.2 631.0L976.5 633.7L977.9 636.3L979.3 639.0L980.6 641.7L982.0 644.4L983.3 647.1L984.6 649.8L985.9 652.5L987.2 655.2L988.4 657.9L989.7 660.6L990.9 663.4L992.1 666.1L993.3 668.9L994.4 671.6L995.6 674.4L996.7 677.2L997.9 680.0L999.0 682.7L1000.1 685.5L1001.3 688.3L1002.4 691.1L1003.6 693.8L1004.7 696.6L1005.9 699.4L1007.0 702.2L1008.2 704.9L1009.3 707.7L1010.5 710.4L1011.7 713.2L1012.9 715.9L1014.1 718.7L1015.4 721.4L1016.6 724.2L1017.9 726.9L1019.1 729.6L1020.4 732.3L1021.6 735.0L1022.9 737.8L1024.2 740.5L1025.5 743.2L1026.8 745.9L1028.0 748.6L1029.3 751.3L1030.6 754.0L1031.9 756.7L1033.2 759.5L1034.5 762.2L1035.7 764.9L1037.0 767.6L1038.3 770.3L1039.5 773.0L1040.8 775.8L1042.1 778.5L1043.4 781.2L1044.7 783.9L1046.0 786.6L1047.3 789.3L1048.6 792.0L1050.0 794.7L1051.3 797.3L1052.6 800.0L1053.9 802.7L1055.2 805.4L1056.5 808.1L1057.8 810.9L1059.1 813.6L1060.4 816.3L1061.6 819.0L1062.9 821.7L1064.1 824.5L1065.4 827.2L1066.6 829.9L1067.9 832.7L1069.1 835.4L1070.4 838.1L1071.6 840.8L1072.9 843.5L1074.2 846.2L1075.5 848.9L1076.9 851.6L1078.2 854.3L1079.6 856.9L1081.0 859.6L1082.5 862.2L1084.0 864.8L1085.5 867.4L1087.0 870.0L1088.5 872.6L1090.1 875.2L1091.6 877.7L1093.2 880.2L1094.9 882.7L1096.6 885.2L1098.3 887.7L1100.0 890.1L1101.8 892.6L1103.6 894.9L1105.4 897.3L1107.3 899.7L1109.2 902.0L1111.1 904.3L1113.1 906.6L1115.0 908.8L1117.0 911.1L1119.0 913.3L1121.0 915.6L1123.0 917.8L1125.0 920.0L1127.0 922.3L1129.0 924.5L1131.0 926.7L1133.0 928.9L1135.1 931.2L1137.1 933.4L1139.1 935.6L1141.1 937.8L1143.2 940.0L1145.2 942.2L1147.3 944.4L1149.3 946.6L1151.4 948.7L1153.5 950.9L1155.6 953.0L1157.8 955.0L1160.0 957.1L1162.2 959.1L1164.5 961.0L1166.8 962.9L1169.2 964.7L1171.6 966.5L1174.0 968.2L1176.5 969.9L1179.0 971.6L1181.5 973.2L1184.1 974.8L1186.6 976.4L1189.2 977.9L1191.8 979.4L1194.4 980.9L1197.0 982.4L1199.6 983.8L1202.3 985.3L1204.9 986.7L1207.6 988.1L1210.2 989.4L1212.9 990.8L1215.6 992.2L1218.2 993.5L1220.9 994.9L1223.5 996.4L1226.2 997.8L1228.8 999.2L1231.4 1000.7L1234.0 1002.2L1236.6 1003.7L1239.2 1005.2L1241.8 1006.7L1244.4 1008.2L1247.0 1009.7L1249.6 1011.2L1252.2 1012.6L1254.9 1014.0L1257.5 1015.4L1260.2 1016.7L1262.9 1017.9L1265.6 1019.2L1268.3 1020.5L1271.0 1021.8L1273.6 1023.2L1276.2 1024.6L1278.8 1026.2L1281.3 1027.8L1283.7 1029.5L1286.2 1031.2L1288.6 1032.9L1291.0 1034.7L1293.4 1036.5L1295.8 1038.4L1298.2 1040.2L1300.6 1042.0L1303.0 1043.8L1305.4 1045.6L1307.8 1047.4L1310.2 1049.1L1312.6 1050.9L1315.1 1052.7L1317.5 1054.4L1319.9 1056.1L1322.4 1057.9L1324.9 1059.6L1327.3 1061.3L1329.8 1063.0L1332.3 1064.7L1334.8 1066.3L1337.3 1068.0L1339.8 1069.6L1342.3 1071.2L1344.9 1072.8L1347.4 1074.4L1350.0 1076.0L1352.5 1077.5L1355.1 1079.1L1357.7 1080.6L1360.3 1082.1L1362.9 1083.7L1365.4 1085.2L1368.0 1086.7L1370.6 1088.3L1373.2 1089.8L1375.7 1091.4L1378.3 1092.9L1380.8 1094.5L1383.4 1096.1L1385.9 1097.7L1388.5 1099.2L1391.1 1100.8L1393.6 1102.3L1396.2 1103.8L1398.8 1105.3L1401.5 1106.7L1404.1 1108.1L1406.8 1109.4L1409.5 1110.6L1412.3 1111.8L1415.1 1112.9L1417.8 1114.0L1420.7 1115.1L1423.5 1116.1L1426.3 1117.2L1429.1 1118.2L1431.9 1119.3L1434.7 1120.4L1437.5 1121.5L1440.2 1122.7L1443.0 1123.8L1445.8 1125.0L1448.5 1126.2L1451.2 1127.4L1454.0 1128.6L1456.7 1129.9L1459.4 1131.1L1462.2 1132.4L1464.9 1133.6L1467.6 1134.9L1470.3 1136.2L1473.1 1137.4L1475.8 1138.7L1478.5 1139.9L1481.2 1141.2L1484.0 1142.4L1486.7 1143.6L1489.5 1144.8L1492.3 1145.9L1495.0 1147.1L1497.8 1148.2L1500.6 1149.3L1503.4 1150.3L1506.2 1151.4L1509.0 1152.4L1511.9 1153.4L1514.7 1154.4L1517.6 1155.3L1520.4 1156.2L1523.3 1157.1L1526.2 1157.9L1529.0 1158.8L1531.9 1159.5L1534.8 1160.3L1537.7 1161.0L1540.7 1161.7L1543.6 1162.4L1546.5 1163.0L1549.5 1163.6L1552.4 1164.2L1555.3 1164.8L1558.3 1165.4L1561.2 1166.1L1564.1 1166.7L1567.1 1167.4L1570.0 1168.0L1572.9 1168.7L1575.8 1169.4L1578.7 1170.1L1581.7 1170.7L1584.6 1171.4L1587.5 1172.0L1590.4 1172.7L1593.4 1173.3L1596.3 1173.9L1599.2 1174.6L1602.2 1175.2L1605.1 1175.9L1608.0 1176.6L1610.9 1177.3L1613.8 1178.1L1616.7 1178.8L1619.6 1179.6L1622.5 1180.5L1625.4 1181.3L1628.3 1182.2L1631.1 1183.0L1634.0 1183.9L1636.9 1184.8L1639.7 1185.7L1642.6 1186.6L1645.5 1187.4L1648.3 1188.3L1651.2 1189.1L1654.1 1189.8L1657.0 1190.6L1659.9 1191.3L1662.9 1192.0L1665.8 1192.7L1668.7 1193.3L1671.7 1193.9L1674.6 1194.4L1677.6 1195.0L1680.5 1195.5L1683.5 1196.0L1686.4 1196.5L1689.4 1197.0L1692.3 1197.4L1695.3 1197.9L1698.3 1198.3L1701.3 1198.8L1704.2 1199.2L1707.2 1199.6L1710.2 1200.0L1713.1 1200.3L1716.1 1200.7L1719.1 1201.1L1722.1 1201.4L1725.1 1201.8L1728.0 1202.1L1731.0 1202.5L1734.0 1202.8L1737.0 1203.1L1740.0 1203.5L1742.9 1203.8L1745.9 1204.2L1748.9 1204.6L1751.9 1205.0L1754.8 1205.5L1757.8 1205.9L1760.7 1206.5L1763.7 1207.0L1766.6 1207.6L1769.5 1208.3L1772.4 1209.0L1775.4 1209.7L1778.3 1210.4L1781.2 1211.1L1784.1 1211.7L1787.0 1212.3L1790.0 1212.8L1792.9 1213.3L1795.9 1213.7L1798.9 1214.0L1801.8 1214.2L1804.8 1214.3L1807.8 1214.4L1810.8 1214.3L1813.8 1214.1L1816.7 1213.9L1819.7 1213.7L1822.7 1213.4L1825.7 1213.1L1828.7 1212.8L1831.7 1212.5L1834.6 1212.2L1837.6 1211.8L1840.6 1211.5L1843.6 1211.2L1846.6 1210.8L1849.5 1210.4L1852.5 1210.0L1855.5 1209.5L1858.4 1209.0L1861.3 1208.4L1864.3 1207.7L1867.2 1207.0L1870.0 1206.2L1872.9 1205.4L1875.7 1204.4L1878.5 1203.4L1881.3 1202.3L1884.1 1201.1L1886.8 1199.9L1889.5 1198.6L1892.1 1197.2L1894.7 1195.7L1897.3 1194.3L1899.9 1192.7L1902.5 1191.1L1905.0 1189.5L1907.5 1187.9L1910.1 1186.3L1912.6 1184.8L1915.2 1183.2L1917.8 1181.8L1920.4 1180.3L1923.1 1179.0L1925.8 1177.6L1928.5 1176.4L1931.2 1175.1L1933.9 1173.9L1936.7 1172.7L1939.4 1171.5L1942.2 1170.3L1944.9 1169.1L1947.6 1167.8L1950.3 1166.5L1953.0 1165.2L1955.6 1163.7L1958.1 1162.2L1960.6 1160.6L1963.1 1158.9L1965.4 1157.1L1967.7 1155.1L1969.8 1153.1L1972.0 1151.1L1974.0 1148.9L1976.0 1146.7L1977.8 1144.3L1979.5 1141.8L1981.0 1139.3L1982.5 1136.7L1984.0 1134.1L1985.5 1131.5L1987.0 1128.9L1988.5 1126.3L1989.9 1123.6L1991.2 1120.9L1992.4 1118.2L1993.6 1115.4L1994.9 1112.7L1996.3 1110.1L1997.9 1107.5L1999.7 1105.1L2001.7 1103.0L2004.0 1101.0L2006.4 1099.3L2009.0 1097.9L2011.8 1097.2L2014.6 1097.5L2017.2 1098.7L2019.6 1100.5L2021.8 1102.6L2023.8 1104.8L2025.7 1107.2L2027.5 1109.5L2029.2 1112.0L2030.8 1114.5L2032.4 1117.1L2033.9 1119.6L2035.4 1122.2L2037.0 1124.8L2038.5 1127.4L2040.1 1130.0L2041.7 1132.5L2043.3 1135.0L2044.9 1137.5L2046.6 1140.0L2048.3 1142.5L2050.1 1144.9L2052.0 1147.2L2053.9 1149.5L2055.9 1151.8L2057.9 1154.0L2060.0 1156.1L2062.2 1158.2L2064.5 1160.1L2066.9 1161.9L2069.3 1163.7L2071.8 1165.4L2074.2 1167.1L2076.7 1168.9L2079.1 1170.6L2081.6 1172.2L2084.2 1173.8L2086.9 1175.2L2089.6 1176.3L2092.4 1177.3L2095.3 1178.2L2098.2 1178.9L2101.2 1179.5L2104.1 1179.8L2107.1 1180.1L2110.1 1180.1L2113.1 1179.9L2116.1 1179.6L2119.0 1179.1L2121.9 1178.3L2124.8 1177.4L2127.6 1176.2L2130.2 1174.9L2132.9 1173.4L2135.4 1171.8L2137.8 1170.1L2140.2 1168.2L2142.3 1166.2L2144.5 1164.1L2146.7 1162.0L2149.0 1160.2L2151.5 1158.6L2154.3 1157.3L2157.1 1156.3L2160.0 1155.6L2162.9 1155.0L2165.9 1154.9L2168.8 1155.2L2171.6 1156.1L2174.2 1157.6L2176.5 1159.4L2178.8 1161.4L2180.9 1163.5L2182.9 1165.7L2184.9 1168.0L2186.8 1170.3L2188.7 1172.6L2190.6 1175.0L2192.4 1177.3L2194.2 1179.7L2196.0 1182.1L2197.9 1184.5L2199.8 1186.8L2201.7 1189.0L2203.7 1191.2L2205.8 1193.3L2208.0 1195.3L2210.3 1197.2L2212.6 1198.9L2215.1 1200.4L2217.7 1201.8L2220.4 1203.0L2223.1 1204.1L2225.9 1205.0L2228.8 1205.8L2231.7 1206.4L2234.6 1207.0L2237.5 1207.5L2240.5 1208.0L2243.4 1208.4L2246.4 1208.9L2249.4 1209.3L2252.4 1209.7L2255.3 1210.1L2258.3 1210.4L2261.3 1210.8L2264.3 1211.2L2267.2 1211.6L2270.2 1211.9L2273.2 1212.3L2276.2 1212.6L2279.2 1212.9L2282.1 1213.3L2285.1 1213.6L2288.1 1213.9L2291.1 1214.2L2294.1 1214.5L2297.1 1214.7L2300.1 1215.0L2303.1 1215.2L2306.0 1215.3L2309.0 1215.5L2312.0 1215.6L2315.0 1215.6L2318.0 1215.7L2321.0 1215.7L2324.0 1215.7L2327.0 1215.7L2330.0 1215.7L2333.0 1215.6L2336.0 1215.6L2339.0 1215.6L2342.0 1215.7L2345.0 1215.7L2348.0 1215.8L2351.0 1215.8L2354.0 1215.9L2357.0 1216.0L2360.0 1216.1L2363.0 1216.2L2366.0 1216.3L2369.0 1216.4L2372.0 1216.5L2375.0 1216.6L2377.9 1216.7L2380.9 1216.9L2383.8 1217.0L2386.7 1217.1L2389.7 1217.2L2392.7 1217.3L2395.9 1217.5L2397.0 1217.5" fill="none" stroke="#ff0000" stroke-width="3.0" stroke-linejoin="round"/>
<path d="M279.0 1439.8L282.1 1438.7L285.0 1437.8L287.8 1437.0L290.7 1436.3L293.5 1435.6L296.4 1435.0L299.3 1434.4L302.2 1433.9L305.2 1433.4L308.1 1432.9L311.1 1432.5L314.1 1432.1L317.0 1431.7L320.0 1431.3L323.0 1430.9L325.9 1430.6L328.9 1430.2L331.9 1429.7L334.8 1429.2L337.8 1428.7L340.7 1428.2L343.7 1427.6L346.6 1427.1L349.6 1426.5L352.5 1425.9L355.5 1425.3L358.4 1424.7L361.3 1424.0L364.2 1423.4L367.1 1422.7L370.0 1421.9L372.9 1421.0L375.7 1420.1L378.5 1419.0L381.2 1417.9L383.9 1416.6L386.6 1415.3L389.2 1413.9L391.8 1412.5L394.5 1411.1L397.1 1409.6L399.7 1408.2L402.4 1406.7L405.0 1405.3L407.6 1403.9L410.3 1402.4L412.9 1401.0L415.5 1399.5L418.1 1398.0L420.6 1396.5L423.1 1394.8L425.5 1393.1L427.9 1391.3L430.2 1389.5L432.5 1387.5L434.7 1385.5L436.9 1383.5L439.1 1381.4L441.2 1379.3L443.4 1377.2L445.5 1375.1L447.7 1373.0L449.8 1370.9L452.0 1368.8L454.1 1366.8L456.3 1364.7L458.5 1362.6L460.6 1360.6L462.8 1358.5L465.0 1356.4L467.1 1354.3L469.2 1352.2L471.2 1350.0L473.3 1347.8L475.3 1345.6L477.2 1343.3L479.2 1341.0L481.1 1338.7L483.0 1336.4L484.9 1334.1L486.8 1331.8L488.8 1329.5L490.7 1327.2L492.6 1324.9L494.5 1322.5L496.4 1320.2L498.3 1317.9L500.2 1315.6L502.1 1313.2L503.9 1310.9L505.8 1308.5L507.6 1306.2L509.5 1303.8L511.3 1301.4L513.0 1299.0L514.8 1296.5L516.5 1294.1L518.2 1291.6L519.8 1289.1L521.4 1286.5L522.9 1284.0L524.4 1281.4L525.8 1278.7L527.2 1276.1L528.5 1273.4L529.8 1270.7L531.1 1268.0L532.4 1265.3L533.7 1262.6L535.0 1259.9L536.3 1257.1L537.6 1254.4L538.9 1251.8L540.3 1249.1L541.6 1246.4L543.0 1243.7L544.4 1241.1L545.8 1238.4L547.2 1235.8L548.5 1233.1L549.8 1230.4L551.1 1227.7L552.3 1225.0L553.5 1222.2L554.6 1219.4L555.7 1216.6L556.7 1213.9L557.8 1211.0L558.9 1208.2L559.9 1205.4L561.0 1202.6L562.1 1199.8L563.2 1197.0L564.2 1194.2L565.2 1191.4L566.2 1188.6L567.2 1185.8L568.2 1182.9L569.1 1180.1L570.0 1177.2L570.9 1174.3L571.7 1171.4L572.5 1168.5L573.3 1165.7L574.0 1162.8L574.8 1159.9L575.7 1157.0L576.7 1154.2L577.8 1151.4L579.0 1148.6L580.3 1145.9L581.9 1143.4L583.8 1141.2L586.3 1139.7L589.0 1139.2L591.8 1139.7L594.3 1141.3L596.2 1143.4L597.8 1146.0L599.2 1148.6L600.7 1151.2L602.2 1153.8L603.8 1156.4L605.4 1158.9L607.2 1161.3L609.2 1163.4L611.7 1165.0L614.4 1165.9L617.3 1166.0L620.2 1165.4L623.0 1164.3L625.6 1162.8L628.0 1161.0L630.3 1159.0L632.5 1157.1L634.7 1155.1L636.8 1153.0L638.8 1150.8L640.8 1148.6L642.8 1146.3L644.6 1144.0L646.5 1141.6L648.2 1139.2L650.0 1136.8L651.7 1134.3L653.3 1131.8L655.0 1129.3L656.6 1126.7L658.2 1124.2L659.7 1121.6L661.3 1119.1L662.8 1116.5L664.3 1113.9L665.8 1111.3L667.3 1108.7L668.7 1106.1L670.2 1103.5L671.7 1100.9L673.2 1098.3L674.7 1095.7L676.3 1093.1L677.8 1090.5L679.3 1087.9L680.8 1085.3L682.2 1082.7L683.7 1080.1L685.1 1077.5L686.6 1074.9L688.0 1072.3L689.5 1069.7L691.1 1067.2L692.6 1064.6L694.1 1062.1L695.7 1059.5L697.2 1056.9L698.6 1054.3L700.1 1051.7L701.5 1049.1L702.9 1046.4L704.3 1043.8L705.7 1041.1L707.0 1038.4L708.3 1035.7L709.6 1033.1L711.0 1030.4L712.4 1027.7L713.8 1025.1L715.3 1022.5L716.8 1019.9L718.4 1017.4L720.1 1014.9L721.8 1012.5L723.6 1010.2L725.6 1007.9L727.6 1005.8L729.7 1003.7L731.9 1001.7L734.2 999.9L736.6 998.3L739.1 996.9L741.7 995.7L744.4 994.7L747.2 994.0L750.0 993.5L752.8 993.3L755.7 993.4L758.5 993.8L761.3 994.4L764.1 995.2L766.9 996.2L769.5 997.4L772.2 998.7L774.8 1000.1L777.4 1001.6L779.9 1003.1L782.5 1004.7L785.0 1006.4L787.4 1008.1L789.8 1009.8L792.3 1011.6L794.6 1013.4L797.0 1015.3L799.4 1017.1L801.7 1019.0L804.1 1020.8L806.4 1022.7L808.8 1024.5L811.2 1026.2L813.7 1027.9L816.2 1029.6L818.7 1031.1L821.3 1032.6L824.0 1033.9L826.7 1035.2L829.4 1036.3L832.2 1037.3L835.0 1038.3L837.9 1039.2L840.8 1040.1L843.6 1040.9L846.5 1041.7L849.4 1042.4L852.3 1043.2L855.2 1044.0L858.1 1044.8L861.0 1045.5L863.9 1046.3L866.8 1047.1L869.7 1047.8L872.6 1048.6L875.5 1049.3L878.4 1050.1L881.3 1050.8L884.3 1051.5L887.2 1052.2L890.1 1052.8L893.0 1053.5L895.9 1054.3L898.8 1055.0L901.7 1055.9L904.5 1056.7L907.4 1057.7L910.2 1058.7L913.0 1059.7L915.8 1060.8L918.6 1061.9L921.4 1063.1L924.1 1064.3L926.8 1065.5L929.5 1066.8L932.2 1068.1L934.9 1069.5L937.5 1070.9L940.1 1072.4L942.8 1073.8L945.3 1075.4L947.9 1076.9L950.4 1078.5L952.9 1080.2L955.4 1081.9L957.8 1083.6L960.2 1085.4L962.6 1087.2L965.0 1089.0L967.4 1090.8L969.8 1092.6L972.2 1094.4L974.6 1096.2L977.0 1098.0L979.4 1099.8L981.8 1101.6L984.2 1103.4L986.6 1105.2L988.9 1107.1L991.2 1109.0L993.5 1110.9L995.8 1112.9L998.0 1114.9L1000.2 1116.9L1002.4 1118.9L1004.6 1121.0L1006.7 1123.1L1008.9 1125.2L1011.0 1127.3L1013.1 1129.4L1015.3 1131.5L1017.4 1133.7L1019.5 1135.8L1021.6 1137.9L1023.7 1140.0L1025.8 1142.2L1028.0 1144.3L1030.1 1146.4L1032.2 1148.5L1034.4 1150.6L1036.6 1152.7L1038.7 1154.7L1040.9 1156.8L1043.1 1158.8L1045.4 1160.8L1047.6 1162.8L1049.9 1164.8L1052.1 1166.7L1054.4 1168.7L1056.7 1170.6L1059.0 1172.5L1061.4 1174.4L1063.7 1176.3L1066.1 1178.1L1068.4 1180.0L1070.7 1181.9L1073.1 1183.8L1075.4 1185.6L1077.8 1187.5L1080.1 1189.3L1082.5 1191.2L1084.9 1193.0L1087.3 1194.8L1089.7 1196.6L1092.2 1198.3L1094.6 1200.0L1097.1 1201.7L1099.6 1203.4L1102.1 1205.0L1104.6 1206.6L1107.2 1208.2L1109.7 1209.8L1112.3 1211.3L1114.9 1212.8L1117.5 1214.2L1120.2 1215.7L1122.8 1217.1L1125.5 1218.5L1128.2 1219.8L1130.8 1221.1L1133.6 1222.4L1136.3 1223.6L1139.0 1224.9L1141.8 1226.1L1144.5 1227.2L1147.3 1228.4L1150.1 1229.5L1152.9 1230.6L1155.7 1231.7L1158.5 1232.8L1161.2 1233.9L1164.1 1235.0L1166.9 1236.0L1169.7 1237.0L1172.5 1238.0L1175.3 1239.0L1178.2 1239.9L1181.1 1240.7L1184.0 1241.5L1186.9 1242.3L1189.8 1243.0L1192.7 1243.6L1195.6 1244.2L1198.6 1244.8L1201.5 1245.4L1204.5 1246.0L1207.4 1246.5L1210.3 1247.1L1213.3 1247.7L1216.2 1248.3L1219.2 1248.9L1222.1 1249.6L1225.0 1250.2L1227.9 1250.9L1230.9 1251.5L1233.8 1252.2L1236.7 1252.9L1239.6 1253.6L1242.6 1254.2L1245.5 1254.9L1248.4 1255.7L1251.3 1256.4L1254.2 1257.1L1257.1 1257.8L1260.0 1258.6L1262.9 1259.4L1265.8 1260.1L1268.7 1260.9L1271.6 1261.7L1274.5 1262.5L1277.4 1263.4L1280.3 1264.2L1283.1 1265.1L1286.0 1266.0L1288.8 1267.0L1291.6 1268.0L1294.5 1269.0L1297.3 1270.1L1300.0 1271.2L1302.8 1272.3L1305.6 1273.5L1308.3 1274.7L1311.1 1275.9L1313.8 1277.1L1316.5 1278.4L1319.2 1279.7L1321.9 1281.0L1324.6 1282.3L1327.3 1283.6L1330.0 1284.9L1332.7 1286.2L1335.4 1287.5L1338.1 1288.8L1340.9 1290.1L1343.6 1291.4L1346.3 1292.6L1349.0 1293.9L1351.7 1295.2L1354.5 1296.4L1357.2 1297.7L1359.9 1298.9L1362.6 1300.2L1365.4 1301.4L1368.1 1302.6L1370.8 1303.9L1373.6 1305.1L1376.3 1306.3L1379.1 1307.5L1381.8 1308.7L1384.6 1309.9L1387.3 1311.1L1390.1 1312.3L1392.8 1313.5L1395.6 1314.6L1398.4 1315.8L1401.1 1316.9L1403.9 1318.1L1406.7 1319.2L1409.5 1320.3L1412.3 1321.4L1415.1 1322.5L1417.9 1323.6L1420.7 1324.7L1423.5 1325.8L1426.3 1326.8L1429.1 1327.8L1431.9 1328.9L1434.7 1329.9L1437.6 1330.9L1440.4 1331.9L1443.2 1332.9L1446.1 1333.8L1448.9 1334.8L1451.7 1335.8L1454.6 1336.7L1457.4 1337.7L1460.3 1338.6L1463.1 1339.5L1466.0 1340.4L1468.9 1341.2L1471.8 1342.1L1474.6 1342.9L1477.5 1343.7L1480.4 1344.5L1483.3 1345.2L1486.3 1345.9L1489.2 1346.6L1492.1 1347.2L1495.1 1347.8L1498.0 1348.4L1500.9 1348.9L1503.9 1349.5L1506.8 1350.0L1509.8 1350.5L1512.8 1350.9L1515.7 1351.4L1518.7 1351.8L1521.7 1352.2L1524.7 1352.6L1527.6 1353.0L1530.6 1353.4L1533.6 1353.8L1536.6 1354.1L1539.5 1354.5L1542.5 1354.8L1545.5 1355.1L1548.5 1355.4L1551.5 1355.7L1554.5 1355.9L1557.5 1356.2L1560.4 1356.4L1563.4 1356.6L1566.4 1356.8L1569.4 1357.0L1572.4 1357.2L1575.4 1357.4L1578.4 1357.5L1581.4 1357.7L1584.4 1357.8L1587.4 1358.0L1590.4 1358.1L1593.4 1358.2L1596.4 1358.3L1599.4 1358.4L1602.4 1358.5L1605.4 1358.6L1608.4 1358.7L1611.4 1358.9L1614.4 1359.0L1617.4 1359.1L1620.4 1359.2L1623.4 1359.3L1626.4 1359.5L1629.4 1359.6L1632.4 1359.8L1635.4 1360.0L1638.3 1360.2L1641.3 1360.4L1644.3 1360.6L1647.3 1360.9L1650.3 1361.1L1653.3 1361.4L1656.3 1361.7L1659.3 1362.0L1662.3 1362.3L1665.2 1362.6L1668.2 1362.9L1671.2 1363.2L1674.2 1363.5L1677.2 1363.8L1680.2 1364.1L1683.1 1364.5L1686.1 1364.8L1689.1 1365.2L1692.1 1365.5L1695.1 1365.9L1698.0 1366.2L1701.0 1366.6L1704.0 1367.0L1707.0 1367.3L1709.9 1367.7L1712.9 1368.1L1715.9 1368.5L1718.9 1368.9L1721.8 1369.2L1724.8 1369.6L1727.8 1369.9L1730.8 1370.2L1733.8 1370.4L1736.8 1370.6L1739.8 1370.8L1742.7 1370.9L1745.7 1370.9L1748.7 1370.9L1751.7 1370.8L1754.7 1370.7L1757.7 1370.4L1760.7 1370.1L1763.6 1369.7L1766.6 1369.3L1769.5 1368.7L1772.3 1367.9L1775.1 1367.1L1777.9 1366.0L1780.5 1364.8L1783.1 1363.5L1785.6 1361.9L1787.9 1360.2L1790.2 1358.3L1792.3 1356.3L1794.3 1354.1L1796.2 1351.9L1798.0 1349.5L1799.7 1347.1L1801.3 1344.6L1802.9 1342.0L1804.3 1339.4L1805.7 1336.7L1807.0 1334.1L1808.3 1331.4L1809.6 1328.7L1810.9 1325.9L1812.1 1323.2L1813.3 1320.5L1814.6 1317.7L1815.8 1315.0L1817.1 1312.3L1818.4 1309.6L1819.7 1306.9L1821.0 1304.2L1822.2 1301.5L1823.5 1298.7L1824.8 1296.0L1826.0 1293.3L1827.1 1290.5L1828.2 1287.7L1829.2 1284.9L1830.2 1282.1L1831.1 1279.2L1831.9 1276.4L1832.8 1273.5L1833.5 1270.6L1834.3 1267.7L1834.9 1264.8L1835.6 1261.8L1836.2 1258.9L1836.8 1256.0L1837.4 1253.0L1838.0 1250.1L1838.6 1247.1L1839.2 1244.2L1839.8 1241.3L1840.3 1238.3L1840.9 1235.4L1841.5 1232.4L1842.1 1229.5L1842.7 1226.5L1843.3 1223.6L1843.8 1220.7L1844.4 1217.7L1845.0 1214.8L1845.6 1211.8L1846.2 1208.9L1846.8 1205.9L1847.4 1203.0L1847.9 1200.1L1848.5 1197.1L1849.1 1194.2L1849.7 1191.2L1850.3 1188.3L1850.9 1185.4L1851.6 1182.4L1852.3 1179.5L1853.0 1176.6L1853.7 1173.7L1854.5 1170.8L1855.4 1167.9L1856.2 1165.1L1857.1 1162.2L1858.0 1159.3L1858.8 1156.4L1859.5 1153.5L1860.2 1150.6L1860.8 1147.7L1861.4 1144.7L1862.0 1141.8L1862.5 1138.9L1863.1 1135.9L1863.7 1133.0L1864.2 1130.0L1864.8 1127.1L1865.4 1124.1L1866.0 1121.2L1866.6 1118.2L1867.2 1115.3L1867.8 1112.4L1868.4 1109.4L1868.9 1106.5L1869.5 1103.5L1870.1 1100.6L1870.7 1097.7L1871.3 1094.7L1871.9 1091.8L1872.5 1088.8L1873.0 1085.9L1873.6 1082.9L1874.2 1080.0L1874.7 1077.0L1875.3 1074.1L1875.9 1071.2L1876.5 1068.2L1877.2 1065.3L1877.8 1062.4L1878.6 1059.5L1879.3 1056.5L1880.0 1053.6L1880.8 1050.7L1881.5 1047.8L1882.3 1044.9L1883.0 1042.0L1883.7 1039.1L1884.4 1036.2L1885.1 1033.3L1885.8 1030.4L1886.5 1027.4L1887.2 1024.5L1887.9 1021.6L1888.6 1018.7L1889.2 1015.7L1889.8 1012.8L1890.4 1009.9L1891.0 1006.9L1891.6 1004.0L1892.1 1001.0L1892.7 998.1L1893.2 995.1L1893.8 992.2L1894.4 989.2L1895.0 986.3L1895.6 983.4L1896.3 980.4L1897.1 977.6L1898.1 974.7L1899.2 972.0L1900.8 969.9L1902.9 969.5L1904.7 971.2L1906.0 973.8L1907.0 976.6L1907.6 979.5L1908.2 982.4L1908.8 985.4L1909.3 988.4L1909.8 991.3L1910.4 994.3L1910.9 997.2L1911.4 1000.2L1912.0 1003.1L1912.5 1006.1L1913.1 1009.0L1913.7 1011.9L1914.2 1014.9L1914.8 1017.8L1915.4 1020.8L1916.2 1023.6L1917.6 1026.3L1919.3 1028.7L1921.4 1030.8L1923.7 1032.8L1925.9 1034.7L1928.1 1036.8L1930.2 1039.0L1932.0 1041.3L1933.5 1043.9L1934.9 1046.6L1936.2 1049.3L1937.4 1052.0L1938.6 1054.7L1940.0 1057.4L1941.4 1060.0L1943.0 1062.5L1945.0 1064.6L1947.4 1065.4L1949.9 1064.6L1952.2 1062.8L1954.2 1060.6L1956.1 1058.2L1957.5 1055.6L1958.7 1052.9L1959.8 1050.1L1961.2 1047.5L1962.9 1045.0L1964.3 1042.4L1965.4 1039.6L1966.4 1036.8L1967.2 1033.9L1968.0 1031.0L1968.7 1028.1L1969.3 1025.2L1969.9 1022.2L1970.4 1019.3L1971.0 1016.3L1971.5 1013.4L1972.0 1010.4L1972.5 1007.4L1972.9 1004.5L1973.4 1001.5L1973.9 998.5L1974.3 995.6L1974.8 992.6L1975.3 989.7L1975.8 986.7L1976.3 983.8L1977.0 980.8L1977.7 977.9L1978.5 975.0L1979.3 972.1L1980.2 969.3L1981.1 966.4L1982.4 963.7L1984.1 961.7L1986.3 961.3L1988.5 962.7L1990.0 965.2L1991.2 967.9L1992.2 970.7L1993.0 973.6L1993.7 976.5L1994.5 979.4L1995.2 982.4L1995.8 985.3L1996.4 988.2L1997.0 991.2L1997.5 994.1L1998.0 997.1L1998.6 1000.0L1999.2 1003.0L1999.8 1005.9L2000.4 1008.8L2001.1 1011.8L2001.8 1014.7L2002.5 1017.6L2003.3 1020.5L2004.1 1023.4L2004.9 1026.3L2005.8 1029.1L2006.6 1032.0L2007.5 1034.9L2008.5 1037.7L2009.4 1040.6L2010.4 1043.4L2011.4 1046.2L2012.3 1049.1L2013.3 1051.9L2014.3 1054.8L2015.3 1057.6L2016.2 1060.4L2017.2 1063.3L2018.2 1066.1L2019.1 1068.9L2020.1 1071.8L2021.1 1074.6L2022.0 1077.5L2023.0 1080.3L2023.9 1083.2L2024.8 1086.0L2025.7 1088.9L2026.6 1091.7L2027.5 1094.6L2028.4 1097.5L2029.3 1100.4L2030.1 1103.2L2031.0 1106.1L2031.8 1109.0L2032.6 1111.9L2033.5 1114.8L2034.3 1117.6L2035.1 1120.5L2035.9 1123.4L2036.8 1126.3L2037.6 1129.2L2038.5 1132.0L2039.4 1134.9L2040.3 1137.8L2041.3 1140.6L2042.2 1143.4L2043.2 1146.3L2044.3 1149.1L2045.3 1151.9L2046.4 1154.7L2047.6 1157.4L2048.9 1160.2L2050.3 1162.8L2051.9 1165.3L2053.9 1167.5L2056.3 1169.0L2059.1 1169.7L2062.0 1169.6L2065.0 1169.0L2067.8 1168.1L2070.6 1166.9L2073.3 1165.8L2076.0 1165.4L2078.6 1166.3L2080.9 1168.1L2082.7 1170.4L2084.3 1173.0L2085.6 1175.7L2086.9 1178.4L2088.2 1181.1L2089.6 1183.7L2091.1 1186.3L2092.9 1188.7L2095.0 1190.6L2097.7 1191.5L2100.6 1191.6L2103.6 1191.2L2106.4 1190.4L2109.2 1189.3L2111.9 1188.0L2114.7 1187.2L2117.6 1187.1L2120.5 1187.8L2123.0 1189.2L2125.2 1191.2L2126.9 1193.6L2128.5 1196.2L2130.0 1198.8L2131.4 1201.4L2132.7 1204.1L2134.0 1206.8L2135.3 1209.5L2136.8 1212.1L2138.3 1214.7L2139.9 1217.2L2141.6 1219.7L2143.6 1221.9L2145.9 1223.6L2148.6 1224.2L2151.4 1223.6L2153.9 1222.2L2155.9 1220.1L2157.6 1217.6L2159.3 1215.2L2161.4 1213.1L2163.9 1211.8L2166.6 1211.6L2169.3 1212.6L2171.6 1214.4L2173.4 1216.7L2174.9 1219.3L2176.1 1222.0L2177.2 1224.8L2178.2 1227.7L2179.1 1230.5L2180.1 1233.3L2181.0 1236.2L2181.9 1239.0L2182.8 1241.9L2183.6 1244.8L2184.4 1247.7L2185.3 1250.6L2186.4 1253.4L2187.6 1256.1L2189.2 1258.6L2191.1 1260.9L2193.2 1263.1L2195.5 1264.9L2198.0 1266.4L2200.8 1267.0L2203.6 1266.6L2206.2 1265.4L2208.6 1263.6L2210.7 1261.5L2212.5 1259.1L2214.4 1257.0L2216.7 1256.0L2219.1 1256.8L2221.2 1258.8L2222.8 1261.2L2224.2 1263.9L2225.3 1266.7L2226.3 1269.5L2227.2 1272.4L2228.0 1275.2L2228.9 1278.1L2229.8 1281.0L2230.8 1283.8L2231.8 1286.6L2232.9 1289.4L2234.1 1292.2L2235.2 1294.9L2236.4 1297.7L2237.6 1300.4L2238.9 1303.2L2240.3 1305.8L2241.7 1308.4L2243.3 1311.0L2245.2 1313.3L2247.3 1315.4L2249.7 1317.2L2252.2 1318.8L2254.8 1320.4L2257.3 1322.0L2259.8 1323.6L2262.4 1325.2L2264.9 1326.8L2267.5 1328.3L2270.2 1329.7L2272.9 1331.0L2275.7 1332.1L2278.5 1333.0L2281.4 1333.6L2284.4 1334.0L2287.4 1334.1L2290.4 1334.1L2293.4 1333.9L2296.3 1333.5L2299.3 1333.0L2302.2 1332.2L2305.0 1331.2L2307.6 1329.8L2310.1 1328.1L2312.5 1326.3L2314.8 1324.4L2317.2 1322.6L2319.8 1321.3L2322.5 1320.8L2325.0 1321.7L2327.2 1323.6L2329.0 1325.9L2330.8 1328.4L2332.4 1330.9L2334.0 1333.4L2335.5 1336.0L2337.1 1338.6L2338.6 1341.1L2340.2 1343.7L2341.7 1346.3L2343.3 1348.9L2344.8 1351.5L2346.3 1354.1L2347.8 1356.7L2349.3 1359.2L2350.9 1361.8L2352.6 1364.2L2354.5 1366.6L2356.5 1368.7L2358.8 1370.7L2361.2 1372.5L2363.7 1374.1L2366.2 1375.7L2368.8 1377.3L2371.4 1378.7L2374.2 1379.8L2377.1 1380.6L2380.0 1381.0L2383.0 1381.3L2386.0 1381.5L2388.9 1381.6L2391.9 1381.8L2394.9 1381.9L2397.0 1382.0" fill="none" stroke="#000000" stroke-width="3.0" stroke-linejoin="round"/>
<path d="M308.1 1453.9L311.3 1453.3L314.3 1452.7L317.2 1452.0L320.0 1451.3L322.9 1450.6L325.7 1449.8L328.5 1448.9L331.4 1448.1L334.2 1447.2L337.1 1446.2L339.9 1445.3L342.7 1444.3L345.5 1443.2L348.3 1442.2L351.1 1441.0L353.8 1439.8L356.5 1438.5L359.1 1437.1L361.7 1435.6L364.3 1434.1L366.7 1432.4L369.2 1430.7L371.5 1428.9L373.9 1427.0L376.2 1425.1L378.4 1423.1L380.7 1421.2L382.9 1419.2L385.2 1417.2L387.5 1415.3L389.8 1413.4L392.1 1411.5L394.5 1409.7L397.0 1408.0L399.4 1406.3L401.9 1404.7L404.5 1403.1L407.0 1401.5L409.6 1400.0L412.2 1398.5L414.8 1397.0L417.4 1395.4L419.9 1393.9L422.4 1392.3L424.9 1390.7L427.4 1389.0L429.8 1387.2L432.1 1385.3L434.4 1383.4L436.6 1381.4L438.7 1379.3L440.8 1377.2L442.9 1375.0L444.9 1372.8L446.9 1370.5L448.8 1368.3L450.8 1366.0L452.7 1363.7L454.6 1361.4L456.5 1359.0L458.4 1356.7L460.3 1354.4L462.2 1352.1L464.1 1349.7L466.0 1347.4L467.8 1345.1L469.7 1342.7L471.6 1340.4L473.4 1338.0L475.3 1335.6L477.1 1333.3L478.9 1330.9L480.8 1328.5L482.6 1326.2L484.5 1323.8L486.4 1321.5L488.2 1319.1L490.1 1316.8L492.0 1314.5L493.9 1312.2L495.9 1309.9L497.8 1307.5L499.7 1305.3L501.6 1303.0L503.6 1300.7L505.5 1298.4L507.4 1296.1L509.3 1293.8L511.2 1291.4L513.1 1289.1L514.9 1286.7L516.8 1284.3L518.5 1281.9L520.3 1279.5L522.0 1277.0L523.7 1274.6L525.4 1272.1L527.0 1269.6L528.7 1267.1L530.4 1264.6L532.1 1262.1L533.8 1259.6L535.5 1257.2L537.2 1254.7L538.9 1252.3L540.6 1249.8L542.4 1247.4L544.1 1244.9L545.9 1242.5L547.6 1240.0L549.3 1237.6L551.1 1235.1L552.8 1232.7L554.5 1230.2L556.3 1227.8L558.1 1225.4L559.8 1223.0L561.6 1220.5L563.4 1218.2L565.2 1215.8L567.1 1213.4L569.0 1211.1L570.9 1208.8L572.8 1206.5L574.8 1204.2L576.7 1201.9L578.7 1199.7L580.8 1197.5L582.8 1195.3L584.9 1193.2L587.0 1191.0L589.1 1188.8L591.1 1186.7L593.2 1184.5L595.2 1182.2L597.2 1180.0L599.1 1177.8L601.1 1175.5L603.1 1173.3L605.1 1171.1L607.2 1168.9L609.3 1166.9L611.4 1164.8L613.7 1162.8L615.9 1160.8L618.1 1158.8L620.3 1156.8L622.5 1154.8L624.6 1152.7L626.7 1150.6L628.8 1148.4L630.9 1146.3L632.9 1144.1L635.0 1142.0L637.1 1139.9L639.2 1137.7L641.3 1135.6L643.4 1133.5L645.5 1131.3L647.6 1129.2L649.7 1127.1L651.8 1124.9L654.0 1122.8L656.1 1120.8L658.3 1118.7L660.4 1116.6L662.6 1114.5L664.8 1112.5L666.9 1110.4L669.1 1108.3L671.3 1106.2L673.4 1104.2L675.6 1102.1L677.8 1100.1L680.1 1098.1L682.3 1096.1L684.6 1094.2L686.9 1092.2L689.2 1090.3L691.5 1088.4L693.8 1086.4L696.1 1084.5L698.3 1082.6L700.6 1080.6L702.9 1078.7L705.2 1076.8L707.6 1074.9L709.9 1073.0L712.3 1071.2L714.6 1069.4L717.0 1067.6L719.4 1065.8L721.8 1063.9L724.2 1062.1L726.6 1060.3L729.0 1058.5L731.4 1056.7L733.8 1054.9L736.2 1053.2L738.7 1051.4L741.1 1049.7L743.6 1048.0L746.0 1046.2L748.5 1044.5L750.9 1042.8L753.4 1041.1L755.9 1039.4L758.4 1037.7L760.9 1036.1L763.4 1034.4L765.9 1032.8L768.4 1031.2L771.0 1029.6L773.5 1028.0L776.1 1026.5L778.6 1024.9L781.2 1023.4L783.8 1021.9L786.4 1020.4L789.0 1018.9L791.6 1017.4L794.2 1015.9L796.8 1014.4L799.5 1013.0L802.1 1011.5L804.7 1010.0L807.3 1008.6L809.9 1007.1L812.5 1005.6L815.1 1004.2L817.8 1002.8L820.5 1001.4L823.2 1000.2L825.9 999.0L828.7 998.0L831.5 997.0L834.3 996.2L837.2 995.6L840.2 995.0L843.1 994.6L846.0 994.3L849.0 994.0L852.0 993.9L855.0 993.8L858.0 993.8L861.0 993.8L864.0 993.8L867.0 993.8L870.0 993.8L873.0 993.9L876.0 994.0L879.0 994.2L881.9 994.4L884.9 994.7L887.9 995.1L890.8 995.6L893.7 996.2L896.6 997.0L899.4 997.8L902.2 998.8L905.0 999.9L907.7 1001.1L910.3 1002.5L913.0 1003.9L915.5 1005.4L918.1 1006.9L920.6 1008.6L923.0 1010.3L925.5 1012.0L927.9 1013.8L930.3 1015.6L932.6 1017.5L935.0 1019.3L937.4 1021.1L939.8 1022.9L942.2 1024.7L944.6 1026.5L947.0 1028.3L949.5 1030.0L951.9 1031.8L954.3 1033.6L956.7 1035.4L959.1 1037.2L961.5 1039.0L963.8 1040.9L966.1 1042.7L968.5 1044.6L970.8 1046.6L973.0 1048.5L975.3 1050.5L977.6 1052.5L979.8 1054.5L982.0 1056.5L984.2 1058.5L986.4 1060.6L988.6 1062.6L990.7 1064.7L992.9 1066.8L995.0 1068.9L997.1 1071.1L999.3 1073.2L1001.4 1075.3L1003.5 1077.4L1005.6 1079.5L1007.7 1081.7L1009.8 1083.8L1012.0 1085.9L1014.1 1088.1L1016.2 1090.2L1018.2 1092.4L1020.3 1094.5L1022.4 1096.7L1024.4 1098.9L1026.5 1101.1L1028.5 1103.3L1030.5 1105.5L1032.6 1107.7L1034.6 1109.9L1036.7 1112.1L1038.8 1114.2L1040.8 1116.4L1042.9 1118.5L1045.1 1120.7L1047.2 1122.8L1049.3 1124.9L1051.4 1127.0L1053.5 1129.2L1055.7 1131.3L1057.8 1133.4L1059.9 1135.5L1062.0 1137.6L1064.2 1139.8L1066.3 1141.9L1068.4 1144.0L1070.5 1146.1L1072.6 1148.3L1074.8 1150.4L1076.9 1152.5L1079.0 1154.6L1081.2 1156.7L1083.3 1158.8L1085.5 1160.9L1087.7 1162.9L1089.9 1165.0L1092.1 1167.0L1094.3 1169.0L1096.5 1171.0L1098.8 1173.0L1101.0 1175.0L1103.2 1177.0L1105.4 1179.0L1107.7 1181.0L1109.9 1183.0L1112.2 1185.0L1114.4 1187.0L1116.7 1189.0L1119.0 1190.9L1121.3 1192.8L1123.6 1194.7L1125.9 1196.6L1128.2 1198.5L1130.6 1200.4L1132.9 1202.3L1135.2 1204.2L1137.6 1206.1L1139.9 1207.9L1142.3 1209.8L1144.7 1211.6L1147.0 1213.4L1149.5 1215.2L1151.9 1216.9L1154.4 1218.5L1156.9 1220.2L1159.5 1221.7L1162.1 1223.2L1164.7 1224.6L1167.4 1226.0L1170.0 1227.4L1172.7 1228.8L1175.4 1230.1L1178.1 1231.4L1180.8 1232.7L1183.5 1234.0L1186.2 1235.3L1188.9 1236.6L1191.6 1237.8L1194.4 1239.1L1197.1 1240.3L1199.8 1241.6L1202.6 1242.8L1205.3 1244.0L1208.1 1245.2L1210.8 1246.4L1213.6 1247.6L1216.4 1248.7L1219.1 1249.8L1221.9 1250.9L1224.7 1251.9L1227.6 1252.9L1230.4 1253.9L1233.2 1254.9L1236.1 1255.8L1239.0 1256.7L1241.8 1257.6L1244.7 1258.4L1247.6 1259.2L1250.5 1259.9L1253.4 1260.7L1256.3 1261.4L1259.2 1262.1L1262.1 1262.9L1265.0 1263.6L1267.9 1264.4L1270.8 1265.3L1273.6 1266.2L1276.5 1267.1L1279.3 1268.2L1282.1 1269.2L1284.8 1270.4L1287.6 1271.6L1290.3 1272.8L1293.0 1274.0L1295.8 1275.3L1298.5 1276.5L1301.3 1277.7L1304.0 1278.9L1306.8 1280.1L1309.6 1281.2L1312.3 1282.3L1315.1 1283.4L1317.9 1284.4L1320.8 1285.5L1323.6 1286.5L1326.4 1287.5L1329.2 1288.5L1332.0 1289.6L1334.9 1290.6L1337.7 1291.6L1340.5 1292.6L1343.3 1293.7L1346.1 1294.7L1348.9 1295.8L1351.7 1296.8L1354.5 1297.9L1357.3 1299.0L1360.1 1300.1L1362.9 1301.2L1365.7 1302.3L1368.5 1303.5L1371.2 1304.6L1374.0 1305.7L1376.8 1306.9L1379.6 1308.0L1382.3 1309.2L1385.1 1310.3L1387.9 1311.5L1390.7 1312.6L1393.5 1313.7L1396.2 1314.8L1399.0 1315.9L1401.8 1317.0L1404.6 1318.1L1407.4 1319.1L1410.3 1320.2L1413.1 1321.2L1415.9 1322.3L1418.7 1323.3L1421.5 1324.3L1424.3 1325.3L1427.2 1326.3L1430.0 1327.4L1432.8 1328.4L1435.7 1329.3L1438.5 1330.3L1441.3 1331.3L1444.2 1332.3L1447.0 1333.2L1449.9 1334.1L1452.7 1335.1L1455.6 1336.0L1458.4 1336.9L1461.3 1337.7L1464.2 1338.6L1467.1 1339.4L1470.0 1340.2L1472.8 1341.0L1475.8 1341.8L1478.7 1342.5L1481.6 1343.2L1484.5 1343.9L1487.4 1344.6L1490.3 1345.2L1493.3 1345.8L1496.2 1346.4L1499.2 1347.0L1502.1 1347.6L1505.1 1348.2L1508.0 1348.7L1511.0 1349.3L1513.9 1349.8L1516.9 1350.3L1519.8 1350.9L1522.8 1351.4L1525.7 1351.9L1528.7 1352.5L1531.6 1353.1L1534.6 1353.6L1537.5 1354.2L1540.4 1354.8L1543.4 1355.4L1546.3 1356.0L1549.2 1356.7L1552.2 1357.3L1555.1 1358.0L1558.0 1358.6L1561.0 1359.3L1563.9 1359.9L1566.8 1360.6L1569.7 1361.3L1572.7 1362.0L1575.6 1362.6L1578.5 1363.3L1581.4 1364.0L1584.4 1364.6L1587.3 1365.3L1590.2 1366.0L1593.1 1366.7L1596.0 1367.3L1599.0 1368.0L1601.9 1368.7L1604.8 1369.3L1607.7 1370.0L1610.7 1370.7L1613.6 1371.3L1616.5 1372.0L1619.5 1372.6L1622.4 1373.2L1625.3 1373.8L1628.3 1374.4L1631.2 1375.0L1634.2 1375.6L1637.1 1376.2L1640.0 1376.8L1643.0 1377.3L1645.9 1377.9L1648.9 1378.4L1651.9 1378.9L1654.8 1379.4L1657.8 1379.9L1660.7 1380.3L1663.7 1380.7L1666.7 1381.0L1669.7 1381.3L1672.7 1381.5L1675.6 1381.6L1678.6 1381.7L1681.6 1381.7L1684.6 1381.7L1687.6 1381.7L1690.6 1381.8L1693.6 1381.8L1696.6 1382.0L1699.5 1382.2L1702.5 1382.5L1705.4 1382.9L1708.4 1383.4L1711.3 1384.0L1714.2 1384.7L1717.1 1385.3L1720.0 1386.0L1723.0 1386.7L1725.9 1387.3L1728.8 1387.9L1731.8 1388.4L1734.7 1388.9L1737.7 1389.3L1740.7 1389.6L1743.6 1389.9L1746.6 1390.2L1749.6 1390.4L1752.6 1390.6L1755.6 1390.8L1758.6 1391.0L1761.6 1391.2L1764.6 1391.3L1767.6 1391.5L1770.6 1391.6L1773.6 1391.7L1776.6 1391.8L1779.6 1392.0L1782.6 1392.1L1785.6 1392.2L1788.6 1392.3L1791.6 1392.3L1794.6 1392.4L1797.6 1392.5L1800.6 1392.6L1803.6 1392.6L1806.6 1392.7L1809.6 1392.7L1812.6 1392.8L1815.6 1392.8L1818.6 1392.8L1821.6 1392.9L1824.6 1392.9L1827.6 1392.9L1830.6 1392.8L1833.6 1392.8L1836.6 1392.8L1839.6 1392.7L1842.6 1392.7L1845.6 1392.6L1848.6 1392.5L1851.6 1392.3L1854.5 1392.1L1857.5 1391.8L1860.5 1391.4L1863.4 1391.0L1866.3 1390.4L1869.2 1389.7L1872.0 1388.8L1874.8 1387.8L1877.6 1386.7L1880.3 1385.5L1882.9 1384.2L1885.6 1382.8L1888.2 1381.3L1890.8 1379.8L1893.3 1378.2L1895.9 1376.7L1898.4 1375.0L1900.9 1373.4L1903.4 1371.8L1906.0 1370.2L1908.5 1368.7L1911.1 1367.2L1913.7 1365.7L1916.4 1364.4L1919.0 1363.1L1921.8 1362.0L1924.6 1361.0L1927.4 1360.0L1930.2 1359.2L1933.1 1358.3L1936.0 1357.5L1938.9 1356.7L1941.7 1355.9L1944.5 1354.9L1947.3 1353.9L1950.0 1352.8L1952.8 1351.7L1955.4 1350.4L1958.0 1348.9L1960.4 1347.2L1962.8 1345.4L1964.9 1343.3L1966.8 1341.0L1968.5 1338.5L1970.1 1335.9L1971.6 1333.4L1973.2 1330.8L1974.7 1328.2L1976.2 1325.6L1977.7 1323.0L1979.1 1320.4L1980.5 1317.7L1981.9 1315.1L1983.2 1312.4L1984.5 1309.7L1985.9 1307.0L1987.3 1304.4L1988.9 1301.8L1990.4 1299.2L1992.0 1296.7L1993.7 1294.2L1995.4 1291.7L1997.1 1289.3L1999.0 1286.9L2001.0 1284.7L2003.2 1282.8L2005.7 1281.3L2008.6 1280.5L2011.5 1280.5L2014.3 1281.3L2016.7 1282.9L2018.6 1285.1L2020.3 1287.6L2022.0 1290.0L2023.7 1292.5L2025.4 1295.0L2026.9 1297.6L2028.3 1300.3L2029.6 1302.9L2030.9 1305.6L2032.3 1308.3L2033.6 1311.0L2034.9 1313.7L2036.3 1316.4L2037.6 1319.1L2038.9 1321.8L2040.3 1324.5L2041.6 1327.1L2043.1 1329.8L2044.5 1332.4L2046.1 1335.0L2047.7 1337.5L2049.4 1339.9L2051.2 1342.4L2053.0 1344.8L2054.9 1347.1L2056.8 1349.4L2058.8 1351.7L2060.8 1353.9L2062.9 1356.0L2065.1 1358.0L2067.4 1359.9L2069.9 1361.7L2072.4 1363.3L2075.0 1364.8L2077.6 1366.2L2080.2 1367.7L2082.9 1369.1L2085.6 1370.4L2088.4 1371.4L2091.3 1372.2L2094.2 1372.7L2097.2 1373.1L2100.2 1373.6L2103.1 1374.2L2106.0 1374.9L2108.9 1375.6L2111.9 1376.1L2114.9 1376.4L2117.8 1376.2L2120.8 1375.7L2123.6 1374.7L2126.3 1373.5L2129.0 1372.1L2131.6 1370.6L2134.1 1369.1L2136.7 1367.5L2139.2 1365.8L2141.6 1364.0L2143.9 1362.1L2146.2 1360.2L2148.6 1358.4L2151.0 1356.7L2153.7 1355.3L2156.5 1354.4L2159.4 1354.0L2162.4 1354.0L2165.4 1354.4L2168.2 1355.2L2170.9 1356.6L2173.3 1358.3L2175.4 1360.4L2177.5 1362.6L2179.5 1364.8L2181.4 1367.1L2183.2 1369.5L2185.0 1371.9L2186.8 1374.3L2188.6 1376.7L2190.3 1379.2L2192.1 1381.6L2193.8 1384.0L2195.6 1386.4L2197.5 1388.8L2199.4 1391.1L2201.4 1393.3L2203.4 1395.5L2205.4 1397.6L2207.6 1399.7L2209.9 1401.6L2212.2 1403.4L2214.7 1405.0L2217.2 1406.5L2219.8 1407.9L2222.5 1409.2L2225.2 1410.4L2228.0 1411.4L2230.8 1412.3L2233.7 1413.1L2236.6 1413.8L2239.5 1414.5L2242.4 1415.0L2245.4 1415.5L2248.3 1416.0L2251.3 1416.4L2254.3 1416.8L2257.2 1417.2L2260.2 1417.6L2263.2 1418.0L2266.2 1418.4L2269.1 1418.9L2272.1 1419.3L2275.1 1419.7L2278.0 1420.1L2281.0 1420.6L2284.0 1421.0L2287.0 1421.3L2289.9 1421.7L2292.9 1422.1L2295.9 1422.4L2298.9 1422.7L2301.9 1423.0L2304.9 1423.3L2307.8 1423.6L2310.8 1423.9L2313.8 1424.1L2316.8 1424.4L2319.8 1424.6L2322.8 1424.8L2325.8 1425.0L2328.8 1425.2L2331.8 1425.4L2334.8 1425.5L2337.8 1425.7L2340.8 1425.8L2343.8 1426.0L2346.8 1426.1L2349.8 1426.2L2352.8 1426.4L2355.7 1426.5L2358.7 1426.7L2361.7 1426.8L2364.7 1427.0L2367.7 1427.1L2370.7 1427.3L2373.7 1427.4L2376.7 1427.6L2379.6 1427.7L2382.5 1427.9L2385.5 1428.0L2388.4 1428.2L2391.4 1428.3L2394.5 1428.5L2396.7 1428.6" fill="none" stroke="#0000ff" stroke-width="3.0" stroke-linejoin="round"/>
<g font-size="62.3">
<text transform="translate(226.5 1473.0) scale(1 1.05)" text-anchor="end">0.0</text>
<text transform="translate(226.5 1323.7) scale(1 1.05)" text-anchor="end">0.2</text>
<text transform="translate(226.5 1174.3) scale(1 1.05)" text-anchor="end">0.4</text>
<text transform="translate(226.5 1025.0) scale(1 1.05)" text-anchor="end">0.6</text>
<text transform="translate(226.5 875.7) scale(1 1.05)" text-anchor="end">0.8</text>
<text transform="translate(226.5 726.3) scale(1 1.05)" text-anchor="end">1.0</text>
<text transform="translate(226.5 577.0) scale(1 1.05)" text-anchor="end">1.2</text>
<text transform="translate(226.5 427.7) scale(1 1.05)" text-anchor="end">1.4</text>
<text transform="translate(226.5 278.3) scale(1 1.05)" text-anchor="end">1.6</text>
<text transform="translate(226.5 129.0) scale(1 1.05)" text-anchor="end">1.8</text>
<text transform="translate(722.2 1553) scale(1 1.07)" text-anchor="middle">3500</text>
<text transform="translate(1279.9 1553) scale(1 1.07)" text-anchor="middle">3250</text>
<text transform="translate(1837.3 1553) scale(1 1.07)" text-anchor="middle">3000</text>
<text transform="translate(2395.7 1553) scale(1 1.07)" text-anchor="middle">2750</text>
</g>
<g font-size="56">
<rect x="1517" y="45.3" width="128" height="2.8" fill="#000"/>
<rect x="1517" y="113.7" width="128" height="3.0" fill="#0000ff"/>
<rect x="1517" y="181.7" width="128" height="3.2" fill="#ff0000"/>
<rect x="1517" y="263.8" width="128" height="5.3" fill="#008080"/>
<rect x="1517" y="348.1" width="128" height="5.8" fill="#808080"/>
<rect x="1517" y="43.2" width="128" height="2.1" fill="#a8a8a8"/>
<text transform="translate(1657.5 65.0) scale(1 1.065)">Azithromycin</text>
<text transform="translate(1657.5 131.7) scale(1 1.065)">MWCNT-COOH-Azi</text>
<text transform="translate(1657.5 200.5) scale(1 1.065)">MWCNT-COOH-Fe<tspan font-size="31.5" dy="19">3</tspan><tspan dy="-19">O</tspan><tspan font-size="31.5" dy="19">4</tspan><tspan dy="-19">-Azi</tspan></text>
<text transform="translate(1657.5 285.0) scale(1 1.065)">MWCNT-COOH-Fe<tspan font-size="31.5" dy="19">3</tspan><tspan dy="-19">O</tspan><tspan font-size="31.5" dy="19">4</tspan><tspan dy="-19">-CuO-Azi</tspan></text>
<text transform="translate(1657.5 369.0) scale(1 1.065)">MWCNT-COOH-Fe<tspan font-size="31.5" dy="19">3</tspan><tspan dy="-19">O</tspan><tspan font-size="31.5" dy="19">4</tspan><tspan dy="-19">-NiO-Azi</tspan></text>
</g>
<text font-size="77" transform="translate(77.5 1099) rotate(-90) scale(1 1.03)" x="0" y="0">Absorbance (a.u.)</text>
<text font-size="77.2" transform="translate(1000 1684) scale(1 1.02)">Wavenumber (cm<tspan font-size="46" dy="-37.5" dx="-4">-1</tspan><tspan dy="37.5" dx="3">)</tspan></text>
</g>
</svg>
</body></html>
